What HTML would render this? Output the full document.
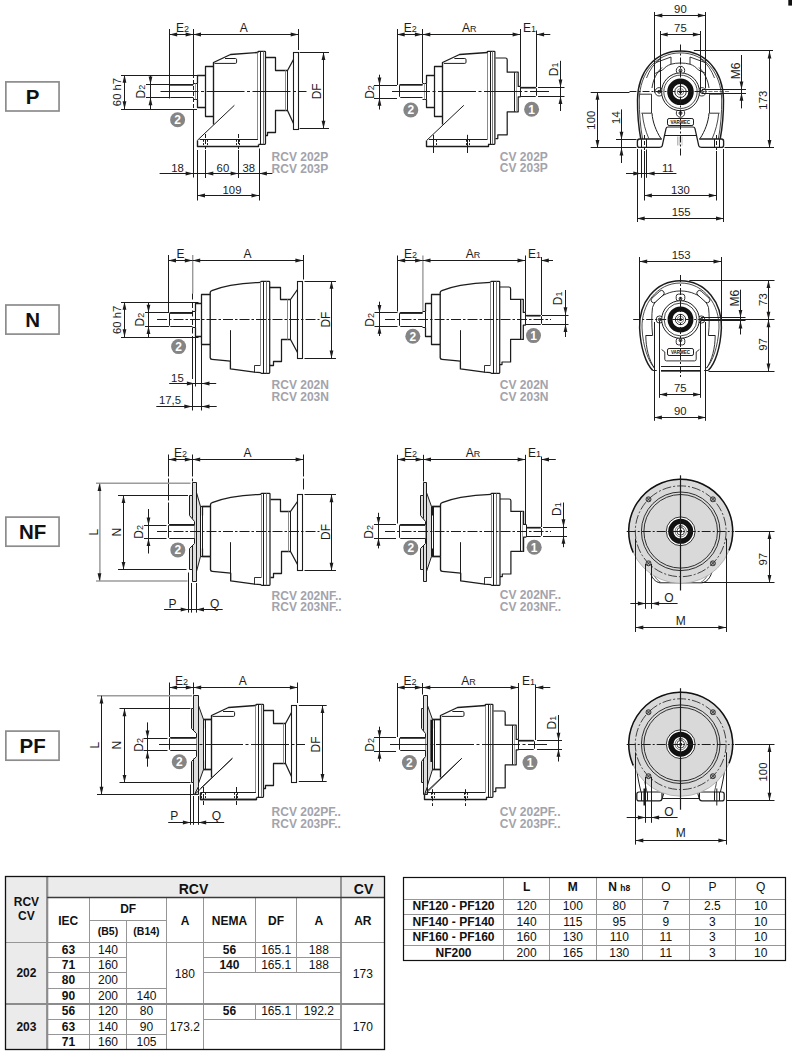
<!DOCTYPE html>
<html><head><meta charset="utf-8"><title>RCV / CV dimensions</title>
<style>
html,body{margin:0;padding:0;background:#fff;}
body{width:792px;height:1062px;overflow:hidden;}
svg{display:block;font-family:"Liberation Sans",sans-serif;}
</style></head><body>
<svg width="792" height="1062" viewBox="0 0 792 1062">
<rect x="0" y="0" width="792" height="1062" fill="#ffffff"/>
<rect x="788.3" y="0" width="3.7" height="5.6" fill="#111"/>
<rect x="5.85" y="81.9" width="53.2" height="29.1" fill="#fff" stroke="#8c8c8c" stroke-width="1.7" rx="0"/>
<text x="32.6" y="103.8" font-size="20.5" text-anchor="middle" fill="#111" font-weight="bold" >P</text>
<rect x="5.85" y="305" width="53.2" height="29.1" fill="#fff" stroke="#8c8c8c" stroke-width="1.7" rx="0"/>
<text x="32.6" y="326.9" font-size="20.5" text-anchor="middle" fill="#111" font-weight="bold" >N</text>
<rect x="5.85" y="517.1" width="53.2" height="29.1" fill="#fff" stroke="#8c8c8c" stroke-width="1.7" rx="0"/>
<text x="32.6" y="538.8" font-size="20.5" text-anchor="middle" fill="#111" font-weight="bold" >NF</text>
<rect x="5.85" y="731.1" width="53.2" height="29.1" fill="#fff" stroke="#8c8c8c" stroke-width="1.7" rx="0"/>
<text x="32.6" y="752.6" font-size="20.5" text-anchor="middle" fill="#111" font-weight="bold" >PF</text>
<path d="M193.5 84.5 L170.5 84.5 L169.5 85.5 L169.5 96.5 L170.5 97.5 L193.5 97.5" fill="none" stroke="#1c1c1c" stroke-width="1" stroke-linejoin="round"/>
<line x1="170" y1="84.9" x2="193.2" y2="84.9" stroke="#1c1c1c" stroke-width="1.6"/>
<path d="M193.5 83.5 L197.5 83.5 L197.5 99.5 L193.5 99.5" fill="none" stroke="#1c1c1c" stroke-width="1" stroke-linejoin="round"/>
<line x1="195.5" y1="83" x2="195.5" y2="99.8" stroke="#777" stroke-width="0.7"/>
<path d="M197.5 83.5 L197.5 75.5 L205.5 75.5 L205.5 107.5 L197.5 107.5 L197.5 99.5" fill="none" stroke="#1c1c1c" stroke-width="1.26" stroke-linejoin="round"/>
<path d="M205.5 75.5 L205.5 66.5 L213.5 66.5" fill="none" stroke="#1c1c1c" stroke-width="1.26" stroke-linejoin="round"/>
<path d="M205.5 107.5 L205.5 116.5 L213.5 116.5" fill="none" stroke="#1c1c1c" stroke-width="1.26" stroke-linejoin="round"/>
<path d="M213.5 124.5 L213.5 62.5 L230.5 54.5 L257.5 52.5" fill="none" stroke="#1c1c1c" stroke-width="1.38" stroke-linejoin="round"/>
<path d="M 214.5 63.4 L 235.4 63.4 Q 236.6 63.4 236.6 62.2 L 236.6 59.7 Q 236.6 58.5 235.4 58.5 L 225 58.5" fill="none" stroke="#1c1c1c" stroke-width="1" stroke-linejoin="round" />
<path d="M 257.9 52.9 L 257.9 51.9 Q 257.9 51.3 258.6 51.3 L 264.8 51.3 Q 265.5 51.3 265.5 51.9 L 265.5 143.6 Q 265.5 144.3 264.8 144.3 L 258.6 144.3" fill="none" stroke="#1c1c1c" stroke-width="1.23" stroke-linejoin="round" />
<line x1="257.5" y1="52.9" x2="257.5" y2="139.7" stroke="#8a8a8a" stroke-width="1"/>
<line x1="260.5" y1="51.5" x2="260.5" y2="144.2" stroke="#1c1c1c" stroke-width="1"/>
<line x1="263.5" y1="51.5" x2="263.5" y2="144.2" stroke="#777" stroke-width="1"/>
<line x1="234.4" y1="105.3" x2="197.3" y2="140.4" stroke="#1c1c1c" stroke-width="1"/>
<path d="M197.5 140.5 L197.5 146.5 L258.5 146.5 L258.5 144.5" fill="none" stroke="#1c1c1c" stroke-width="1.38" stroke-linejoin="round"/>
<line x1="199.5" y1="139.5" x2="257.9" y2="139.5" stroke="#1c1c1c" stroke-width="1"/>
<line x1="203.5" y1="139.8" x2="203.5" y2="146.2" stroke="#1c1c1c" stroke-width="1" stroke-dasharray="2 1.3"/>
<line x1="207.5" y1="139.8" x2="207.5" y2="146.2" stroke="#1c1c1c" stroke-width="1" stroke-dasharray="2 1.3"/>
<line x1="236.5" y1="139.8" x2="236.5" y2="146.2" stroke="#1c1c1c" stroke-width="1" stroke-dasharray="2 1.3"/>
<line x1="239.5" y1="139.8" x2="239.5" y2="146.2" stroke="#1c1c1c" stroke-width="1" stroke-dasharray="2 1.3"/>
<path d="M265.5 57.5 L275.5 57.5 L275.5 70.5 L287.5 70.5 L293.5 59.5" fill="none" stroke="#1c1c1c" stroke-width="1.26" stroke-linejoin="round"/>
<path d="M265.5 135.5 L267.5 135.5 L267.5 132.5 L275.5 132.5 L275.5 110.5 L287.5 110.5 L293.5 123.5" fill="none" stroke="#1c1c1c" stroke-width="1.26" stroke-linejoin="round"/>
<line x1="287.5" y1="70.3" x2="287.5" y2="110.5" stroke="#1c1c1c" stroke-width="1"/>
<line x1="285.5" y1="70.3" x2="285.5" y2="110.5" stroke="#8a8a8a" stroke-width="1"/>
<rect x="293.5" y="52.5" width="5" height="77" fill="none" stroke="#1c1c1c" stroke-width="1.1" rx="0"/>
<line x1="160.5" y1="91.5" x2="306.5" y2="91.5" stroke="#1c1c1c" stroke-width="1" stroke-dasharray="38 2.5 3 2.5"/>
<line x1="169.5" y1="29" x2="169.5" y2="98.5" stroke="#1c1c1c" stroke-width="1"/>
<line x1="193.5" y1="29" x2="193.5" y2="74" stroke="#1c1c1c" stroke-width="1"/>
<line x1="193.5" y1="74" x2="193.5" y2="111" stroke="#1c1c1c" stroke-width="1" stroke-dasharray="4 2"/>
<line x1="193.5" y1="111" x2="193.5" y2="177.5" stroke="#1c1c1c" stroke-width="1"/>
<line x1="298.5" y1="29" x2="298.5" y2="50" stroke="#1c1c1c" stroke-width="1"/>
<line x1="169.5" y1="34.5" x2="193.3" y2="34.5" stroke="#1c1c1c" stroke-width="1"/>
<polygon points="169.5,34.5 177.2,32.6 177.2,36.4" fill="#1c1c1c"/>
<polygon points="193.3,34.5 185.6,32.6 185.6,36.4" fill="#1c1c1c"/>
<line x1="193.3" y1="34.5" x2="298.4" y2="34.5" stroke="#1c1c1c" stroke-width="1"/>
<polygon points="193.3,34.5 201,32.6 201,36.4" fill="#1c1c1c"/>
<polygon points="298.4,34.5 290.7,32.6 290.7,36.4" fill="#1c1c1c"/>
<text x="182.4" y="31.7" font-size="12" text-anchor="middle" fill="#1c1c1c" >E<tspan font-size="9">2</tspan></text>
<text x="243.8" y="32.1" font-size="12" text-anchor="middle" fill="#1c1c1c" >A</text>
<line x1="121" y1="75.5" x2="197" y2="75.5" stroke="#1c1c1c" stroke-width="1"/>
<line x1="121" y1="109.5" x2="197" y2="109.5" stroke="#1c1c1c" stroke-width="1"/>
<line x1="124.5" y1="75" x2="124.5" y2="109" stroke="#1c1c1c" stroke-width="1"/>
<polygon points="124.5,75 122.6,82.7 126.4,82.7" fill="#1c1c1c"/>
<polygon points="124.5,109 122.6,101.3 126.4,101.3" fill="#1c1c1c"/>
<text x="121" y="92" font-size="11.3" text-anchor="middle" fill="#1c1c1c" transform="rotate(-90 121 92)" >60 h7</text>
<line x1="146" y1="84.5" x2="169.5" y2="84.5" stroke="#1c1c1c" stroke-width="1"/>
<line x1="146" y1="97.5" x2="169.5" y2="97.5" stroke="#1c1c1c" stroke-width="1"/>
<line x1="150.5" y1="75" x2="150.5" y2="109" stroke="#1c1c1c" stroke-width="1"/>
<polygon points="150.5,84.3 148.6,76.6 152.4,76.6" fill="#1c1c1c"/>
<polygon points="150.5,97.6 148.6,105.3 152.4,105.3" fill="#1c1c1c"/>
<text x="145.5" y="91.6" font-size="12" text-anchor="middle" fill="#1c1c1c" transform="rotate(-90 145.5 91.6)" >D<tspan font-size="9">2</tspan></text>
<line x1="299.6" y1="52.5" x2="329" y2="52.5" stroke="#1c1c1c" stroke-width="1"/>
<line x1="299.6" y1="128.5" x2="329" y2="128.5" stroke="#1c1c1c" stroke-width="1"/>
<line x1="323.5" y1="52.2" x2="323.5" y2="128.4" stroke="#1c1c1c" stroke-width="1"/>
<polygon points="323.5,52.2 321.6,59.9 325.4,59.9" fill="#1c1c1c"/>
<polygon points="323.5,128.4 321.6,120.7 325.4,120.7" fill="#1c1c1c"/>
<text x="321" y="91.3" font-size="12" text-anchor="middle" fill="#1c1c1c" transform="rotate(-90 321 91.3)" >DF</text>
<circle cx="177.6" cy="119.7" r="7.5" fill="#858585" stroke="none" stroke-width="0"/>
<text x="177.6" y="124" font-size="12" text-anchor="middle" fill="#ffffff" font-weight="bold" >2</text>
<line x1="197.5" y1="150" x2="197.5" y2="200.5" stroke="#1c1c1c" stroke-width="1"/>
<line x1="259.5" y1="148.5" x2="259.5" y2="200.5" stroke="#1c1c1c" stroke-width="1"/>
<line x1="205.5" y1="134" x2="205.5" y2="149" stroke="#1c1c1c" stroke-width="1" stroke-dasharray="4 2"/>
<line x1="238.5" y1="134" x2="238.5" y2="149" stroke="#1c1c1c" stroke-width="1" stroke-dasharray="4 2"/>
<line x1="205.5" y1="150" x2="205.5" y2="178" stroke="#1c1c1c" stroke-width="1"/>
<line x1="238.5" y1="150" x2="238.5" y2="178" stroke="#1c1c1c" stroke-width="1"/>
<line x1="159.6" y1="173.5" x2="272.4" y2="173.5" stroke="#1c1c1c" stroke-width="1"/>
<polygon points="193.3,173.5 185.6,171.6 185.6,175.4" fill="#1c1c1c"/>
<polygon points="205.6,173.5 213.3,171.6 213.3,175.4" fill="#1c1c1c"/>
<polygon points="238.3,173.5 230.6,171.6 230.6,175.4" fill="#1c1c1c"/>
<polygon points="259.2,173.5 266.9,171.6 266.9,175.4" fill="#1c1c1c"/>
<text x="177.6" y="171.6" font-size="11.3" text-anchor="middle" fill="#1c1c1c" >18</text>
<text x="222.9" y="171.6" font-size="11.3" text-anchor="middle" fill="#1c1c1c" >60</text>
<text x="248.7" y="171.6" font-size="11.3" text-anchor="middle" fill="#1c1c1c" >38</text>
<line x1="197.3" y1="195.5" x2="259.2" y2="195.5" stroke="#1c1c1c" stroke-width="1"/>
<polygon points="197.3,195.5 205,193.6 205,197.4" fill="#1c1c1c"/>
<polygon points="259.2,195.5 251.5,193.6 251.5,197.4" fill="#1c1c1c"/>
<text x="232" y="194" font-size="11.3" text-anchor="middle" fill="#1c1c1c" >109</text>
<text x="271.6" y="160.9" font-size="12" text-anchor="start" fill="#a3a3ab" font-weight="bold" >RCV 202P</text>
<text x="271.6" y="172.5" font-size="12" text-anchor="start" fill="#a3a3ab" font-weight="bold" >RCV 203P</text>
<path d="M422.5 84.5 L400.5 84.5 L399.5 85.5 L399.5 96.5 L400.5 97.5 L422.5 97.5" fill="none" stroke="#1c1c1c" stroke-width="1" stroke-linejoin="round"/>
<line x1="399.4" y1="84.9" x2="422.6" y2="84.9" stroke="#1c1c1c" stroke-width="1.6"/>
<path d="M422.5 83.5 L426.5 83.5 L426.5 99.5 L422.5 99.5" fill="none" stroke="#1c1c1c" stroke-width="1" stroke-linejoin="round"/>
<line x1="424.5" y1="83" x2="424.5" y2="99.8" stroke="#777" stroke-width="0.7"/>
<path d="M426.5 83.5 L426.5 75.5 L434.5 75.5 L434.5 107.5 L426.5 107.5 L426.5 99.5" fill="none" stroke="#1c1c1c" stroke-width="1.26" stroke-linejoin="round"/>
<path d="M434.5 75.5 L434.5 66.5 L442.5 66.5" fill="none" stroke="#1c1c1c" stroke-width="1.26" stroke-linejoin="round"/>
<path d="M434.5 107.5 L434.5 116.5 L442.5 116.5" fill="none" stroke="#1c1c1c" stroke-width="1.26" stroke-linejoin="round"/>
<path d="M442.5 124.5 L442.5 62.5 L459.5 54.5 L487.5 52.5" fill="none" stroke="#1c1c1c" stroke-width="1.38" stroke-linejoin="round"/>
<path d="M 443.9 63.4 L 464.8 63.4 Q 466 63.4 466 62.2 L 466 59.7 Q 466 58.5 464.8 58.5 L 454.4 58.5" fill="none" stroke="#1c1c1c" stroke-width="1" stroke-linejoin="round" />
<path d="M 487.3 52.9 L 487.3 51.9 Q 487.3 51.3 488 51.3 L 494.2 51.3 Q 494.9 51.3 494.9 51.9 L 494.9 143.6 Q 494.9 144.3 494.2 144.3 L 488 144.3" fill="none" stroke="#1c1c1c" stroke-width="1.23" stroke-linejoin="round" />
<line x1="487.5" y1="52.9" x2="487.5" y2="139.7" stroke="#8a8a8a" stroke-width="1"/>
<line x1="490.5" y1="51.5" x2="490.5" y2="144.2" stroke="#1c1c1c" stroke-width="1"/>
<line x1="492.5" y1="51.5" x2="492.5" y2="144.2" stroke="#777" stroke-width="1"/>
<line x1="463.8" y1="105.3" x2="426.7" y2="140.4" stroke="#1c1c1c" stroke-width="1"/>
<path d="M426.5 140.5 L426.5 146.5 L488.5 146.5 L488.5 144.5" fill="none" stroke="#1c1c1c" stroke-width="1.38" stroke-linejoin="round"/>
<line x1="428.9" y1="139.5" x2="487.3" y2="139.5" stroke="#1c1c1c" stroke-width="1"/>
<line x1="433.5" y1="139.8" x2="433.5" y2="146.2" stroke="#1c1c1c" stroke-width="1" stroke-dasharray="2 1.3"/>
<line x1="436.5" y1="139.8" x2="436.5" y2="146.2" stroke="#1c1c1c" stroke-width="1" stroke-dasharray="2 1.3"/>
<line x1="466.5" y1="139.8" x2="466.5" y2="146.2" stroke="#1c1c1c" stroke-width="1" stroke-dasharray="2 1.3"/>
<line x1="469.5" y1="139.8" x2="469.5" y2="146.2" stroke="#1c1c1c" stroke-width="1" stroke-dasharray="2 1.3"/>
<path d="M 495.5 58 L 505.4 58 Q 507.2 58 507.2 59.8 L 507.2 72.2 L 518.2 72.2 L 518.2 86.4 L 520.5 86.4" fill="none" stroke="#1c1c1c" stroke-width="1.23" stroke-linejoin="round" />
<path d="M 495.5 138.6 L 497.8 138.6 L 497.8 134.8 L 507.2 134.8 L 507.2 111.8 L 518.2 111.8 L 518.2 96.9 L 520.5 96.9" fill="none" stroke="#1c1c1c" stroke-width="1.23" stroke-linejoin="round" />
<line x1="514.5" y1="72.2" x2="514.5" y2="111.8" stroke="#1c1c1c" stroke-width="1"/>
<line x1="516.5" y1="72.2" x2="516.5" y2="111.8" stroke="#8a8a8a" stroke-width="0.7"/>
<path d="M520.5 87.5 L535.5 87.5 L536.5 88.5 L536.5 95.5 L535.5 96.5 L520.5 96.5" fill="none" stroke="#1c1c1c" stroke-width="1" stroke-linejoin="round"/>
<line x1="520.5" y1="86.4" x2="520.5" y2="96.9" stroke="#1c1c1c" stroke-width="1"/>
<line x1="521" y1="87.7" x2="535.8" y2="87.7" stroke="#1c1c1c" stroke-width="1.7"/>
<line x1="392" y1="91.5" x2="549" y2="91.5" stroke="#1c1c1c" stroke-width="1" stroke-dasharray="38 2.5 3 2.5"/>
<line x1="397.5" y1="29" x2="397.5" y2="85" stroke="#1c1c1c" stroke-width="1"/>
<line x1="422.5" y1="29" x2="422.5" y2="83" stroke="#1c1c1c" stroke-width="1"/>
<line x1="520.5" y1="29" x2="520.5" y2="86" stroke="#1c1c1c" stroke-width="1"/>
<line x1="536.5" y1="30.5" x2="536.5" y2="87" stroke="#1c1c1c" stroke-width="1"/>
<line x1="397" y1="34.5" x2="422.6" y2="34.5" stroke="#1c1c1c" stroke-width="1"/>
<polygon points="397,34.5 404.7,32.6 404.7,36.4" fill="#1c1c1c"/>
<polygon points="422.6,34.5 414.9,32.6 414.9,36.4" fill="#1c1c1c"/>
<line x1="422.6" y1="34.5" x2="520.3" y2="34.5" stroke="#1c1c1c" stroke-width="1"/>
<polygon points="422.6,34.5 430.3,32.6 430.3,36.4" fill="#1c1c1c"/>
<polygon points="520.3,34.5 512.6,32.6 512.6,36.4" fill="#1c1c1c"/>
<line x1="536.4" y1="34.5" x2="550.3" y2="34.5" stroke="#1c1c1c" stroke-width="1"/>
<polygon points="536.4,34.5 544.1,32.6 544.1,36.4" fill="#1c1c1c"/>
<text x="410.3" y="32.1" font-size="12" text-anchor="middle" fill="#1c1c1c" >E<tspan font-size="9">2</tspan></text>
<text x="469.2" y="32.1" font-size="12" text-anchor="middle" fill="#1c1c1c" >A<tspan font-size="9">R</tspan></text>
<text x="529.6" y="32.1" font-size="12" text-anchor="middle" fill="#1c1c1c" >E<tspan font-size="9">1</tspan></text>
<line x1="374" y1="85.5" x2="397" y2="85.5" stroke="#1c1c1c" stroke-width="1"/>
<line x1="374" y1="98.5" x2="397" y2="98.5" stroke="#1c1c1c" stroke-width="1"/>
<line x1="379.5" y1="74.7" x2="379.5" y2="109.5" stroke="#1c1c1c" stroke-width="1"/>
<polygon points="379.5,85.3 377.6,77.6 381.4,77.6" fill="#1c1c1c"/>
<polygon points="379.5,98.1 377.6,105.8 381.4,105.8" fill="#1c1c1c"/>
<text x="374" y="92" font-size="12" text-anchor="middle" fill="#1c1c1c" transform="rotate(-90 374 92)" >D<tspan font-size="9">2</tspan></text>
<line x1="538" y1="87.5" x2="564.5" y2="87.5" stroke="#1c1c1c" stroke-width="1"/>
<line x1="538" y1="96.5" x2="564.5" y2="96.5" stroke="#1c1c1c" stroke-width="1"/>
<line x1="560.5" y1="60.8" x2="560.5" y2="111" stroke="#1c1c1c" stroke-width="1"/>
<polygon points="560.5,87.2 558.6,79.5 562.4,79.5" fill="#1c1c1c"/>
<polygon points="560.5,96.3 558.6,104 562.4,104" fill="#1c1c1c"/>
<text x="557.8" y="69.4" font-size="12" text-anchor="middle" fill="#1c1c1c" transform="rotate(-90 557.8 69.4)" >D<tspan font-size="9">1</tspan></text>
<circle cx="410.8" cy="110" r="7.5" fill="#858585" stroke="none" stroke-width="0"/>
<text x="410.8" y="114.3" font-size="12" text-anchor="middle" fill="#ffffff" font-weight="bold" >2</text>
<circle cx="531.6" cy="109.2" r="7.5" fill="#858585" stroke="none" stroke-width="0"/>
<text x="531.6" y="113.5" font-size="12" text-anchor="middle" fill="#ffffff" font-weight="bold" >1</text>
<line x1="433.5" y1="134.8" x2="433.5" y2="153" stroke="#1c1c1c" stroke-width="1"/>
<line x1="467.5" y1="134.8" x2="467.5" y2="153" stroke="#1c1c1c" stroke-width="1"/>
<text x="499.8" y="160.5" font-size="12" text-anchor="start" fill="#a3a3ab" font-weight="bold" >CV 202P</text>
<text x="499.8" y="172.1" font-size="12" text-anchor="start" fill="#a3a3ab" font-weight="bold" >CV 203P</text>
<path d="M192.5 312.5 L170.5 312.5 L169.5 313.5 L169.5 325.5 L170.5 326.5 L192.5 326.5" fill="none" stroke="#1c1c1c" stroke-width="1" stroke-linejoin="round"/>
<line x1="169.7" y1="313.1" x2="192.6" y2="313.1" stroke="#1c1c1c" stroke-width="1.6"/>
<path d="M192.5 311.5 L195.5 311.5 L195.5 327.5 L192.5 327.5" fill="none" stroke="#1c1c1c" stroke-width="1" stroke-linejoin="round"/>
<path d="M195.5 311.5 L195.5 303.5 L201.5 303.5 L201.5 336.5 L195.5 336.5 L195.5 327.5" fill="none" stroke="#1c1c1c" stroke-width="1.26" stroke-linejoin="round"/>
<path d="M201.5 303.5 L201.5 294.5 L210.5 294.5" fill="none" stroke="#1c1c1c" stroke-width="1.26" stroke-linejoin="round"/>
<path d="M201.5 336.5 L201.5 344.5 L210.5 344.5" fill="none" stroke="#1c1c1c" stroke-width="1.26" stroke-linejoin="round"/>
<path d="M 210.2 344.4 L 210.2 292.6 Q 210.3 291.1 211.8 290.6 Q 221 287 230.5 285.3 Q 245 283 260.8 282.3" fill="none" stroke="#1c1c1c" stroke-width="1.34" stroke-linejoin="round" />
<path d="M 210.2 344.4 L 210.2 357.6 Q 210.3 359.2 212 359.4 L 230.4 361.2 L 230.4 368.9 L 254.4 372.1 L 260.8 372.6" fill="none" stroke="#1c1c1c" stroke-width="1.34" stroke-linejoin="round" />
<path d="M254.5 372.5 L254.5 365.5 L260.5 365.5" fill="none" stroke="#1c1c1c" stroke-width="0.9" stroke-linejoin="round"/>
<line x1="230.5" y1="330.2" x2="230.5" y2="361.2" stroke="#1c1c1c" stroke-width="1"/>
<path d="M 260.8 282.3 L 260.8 281.9 Q 260.8 281.3 261.5 281.3 L 269 281.3 Q 269.7 281.3 269.7 281.9 L 269.7 372.6 Q 269.7 373.3 269 373.3 L 261.5 373.3 Q 260.8 373.3 260.8 372.6" fill="none" stroke="#1c1c1c" stroke-width="1.23" stroke-linejoin="round" />
<line x1="260.5" y1="282.3" x2="260.5" y2="365.4" stroke="#8a8a8a" stroke-width="1"/>
<line x1="263.5" y1="281.4" x2="263.5" y2="373.2" stroke="#1c1c1c" stroke-width="1"/>
<line x1="266.5" y1="281.4" x2="266.5" y2="373.2" stroke="#777" stroke-width="1"/>
<path d="M269.5 287.5 L280.5 287.5 L280.5 299.5 L290.5 299.5 L297.5 289.5" fill="none" stroke="#1c1c1c" stroke-width="1.26" stroke-linejoin="round"/>
<path d="M269.5 365.5 L273.5 365.5 L273.5 361.5 L281.5 361.5 L281.5 339.5 L290.5 339.5 L297.5 352.5" fill="none" stroke="#1c1c1c" stroke-width="1.26" stroke-linejoin="round"/>
<line x1="290.5" y1="299.4" x2="290.5" y2="339.6" stroke="#1c1c1c" stroke-width="1"/>
<line x1="287.5" y1="299.4" x2="287.5" y2="339.6" stroke="#8a8a8a" stroke-width="1"/>
<rect x="297.5" y="281.5" width="5" height="77" fill="none" stroke="#1c1c1c" stroke-width="1.1" rx="0"/>
<line x1="157" y1="319.5" x2="319.5" y2="319.5" stroke="#1c1c1c" stroke-width="1" stroke-dasharray="10 2 2.5 2"/>
<line x1="168.5" y1="255" x2="168.5" y2="312" stroke="#1c1c1c" stroke-width="1"/>
<line x1="192.7" y1="255" x2="192.7" y2="293.5" stroke="#9a9a9a" stroke-width="1.4"/>
<line x1="192.5" y1="293.5" x2="192.5" y2="337" stroke="#1c1c1c" stroke-width="1" stroke-dasharray="6 2.5"/>
<line x1="192.5" y1="337" x2="192.5" y2="410.5" stroke="#1c1c1c" stroke-width="1" stroke-dasharray="42 4"/>
<line x1="195.5" y1="337" x2="195.5" y2="386.5" stroke="#1c1c1c" stroke-width="1"/>
<line x1="303.5" y1="255" x2="303.5" y2="279.5" stroke="#1c1c1c" stroke-width="1"/>
<line x1="168.3" y1="260.5" x2="192.5" y2="260.5" stroke="#1c1c1c" stroke-width="1"/>
<polygon points="168.3,260.5 176,258.6 176,262.4" fill="#1c1c1c"/>
<polygon points="192.5,260.5 184.8,258.6 184.8,262.4" fill="#1c1c1c"/>
<line x1="192.5" y1="260.5" x2="303.1" y2="260.5" stroke="#1c1c1c" stroke-width="1"/>
<polygon points="192.5,260.5 200.2,258.6 200.2,262.4" fill="#1c1c1c"/>
<polygon points="303.1,260.5 295.4,258.6 295.4,262.4" fill="#1c1c1c"/>
<text x="180.4" y="257.9" font-size="12" text-anchor="middle" fill="#1c1c1c" >E</text>
<text x="247.5" y="258.1" font-size="12" text-anchor="middle" fill="#1c1c1c" >A</text>
<line x1="121" y1="302.5" x2="198.5" y2="302.5" stroke="#1c1c1c" stroke-width="1"/>
<line x1="121" y1="337.5" x2="198.5" y2="337.5" stroke="#1c1c1c" stroke-width="1"/>
<line x1="124.5" y1="302.1" x2="124.5" y2="337" stroke="#1c1c1c" stroke-width="1"/>
<polygon points="124.5,302.1 122.6,309.8 126.4,309.8" fill="#1c1c1c"/>
<polygon points="124.5,337 122.6,329.3 126.4,329.3" fill="#1c1c1c"/>
<text x="121" y="319.8" font-size="11.3" text-anchor="middle" fill="#1c1c1c" transform="rotate(-90 121 319.8)" >60 h7</text>
<line x1="145" y1="312.5" x2="169.2" y2="312.5" stroke="#1c1c1c" stroke-width="1"/>
<line x1="145" y1="326.5" x2="169.2" y2="326.5" stroke="#1c1c1c" stroke-width="1"/>
<line x1="148.5" y1="302.1" x2="148.5" y2="337" stroke="#1c1c1c" stroke-width="1"/>
<polygon points="148.5,312.5 146.6,304.8 150.4,304.8" fill="#1c1c1c"/>
<polygon points="148.5,326.2 146.6,333.9 150.4,333.9" fill="#1c1c1c"/>
<text x="144.5" y="319.6" font-size="12" text-anchor="middle" fill="#1c1c1c" transform="rotate(-90 144.5 319.6)" >D<tspan font-size="9">2</tspan></text>
<line x1="304.5" y1="281.5" x2="336" y2="281.5" stroke="#1c1c1c" stroke-width="1"/>
<line x1="304.5" y1="358.5" x2="336" y2="358.5" stroke="#1c1c1c" stroke-width="1"/>
<line x1="331.5" y1="281" x2="331.5" y2="358.3" stroke="#1c1c1c" stroke-width="1"/>
<polygon points="331.5,281 329.6,288.7 333.4,288.7" fill="#1c1c1c"/>
<polygon points="331.5,358.3 329.6,350.6 333.4,350.6" fill="#1c1c1c"/>
<text x="330.2" y="319.6" font-size="12" text-anchor="middle" fill="#1c1c1c" transform="rotate(-90 330.2 319.6)" >DF</text>
<circle cx="178.6" cy="346.6" r="7.5" fill="#858585" stroke="none" stroke-width="0"/>
<text x="178.6" y="350.9" font-size="12" text-anchor="middle" fill="#ffffff" font-weight="bold" >2</text>
<line x1="201.5" y1="338" x2="201.5" y2="410.5" stroke="#1c1c1c" stroke-width="1"/>
<line x1="169.2" y1="383.5" x2="216.2" y2="383.5" stroke="#1c1c1c" stroke-width="1"/>
<polygon points="194.6,383.5 186.9,381.6 186.9,385.4" fill="#1c1c1c"/>
<polygon points="201.8,383.5 209.5,381.6 209.5,385.4" fill="#1c1c1c"/>
<text x="177.4" y="382" font-size="11.3" text-anchor="middle" fill="#1c1c1c" >15</text>
<line x1="156.3" y1="406.5" x2="216.7" y2="406.5" stroke="#1c1c1c" stroke-width="1"/>
<polygon points="192,406.5 184.3,404.6 184.3,408.4" fill="#1c1c1c"/>
<polygon points="201.8,406.5 209.5,404.6 209.5,408.4" fill="#1c1c1c"/>
<text x="170" y="404.4" font-size="11.3" text-anchor="middle" fill="#1c1c1c" >17,5</text>
<text x="271.6" y="389.3" font-size="12" text-anchor="start" fill="#a3a3ab" font-weight="bold" >RCV 202N</text>
<text x="271.6" y="400.9" font-size="12" text-anchor="start" fill="#a3a3ab" font-weight="bold" >RCV 203N</text>
<path d="M422.5 312.5 L400.5 312.5 L399.5 313.5 L399.5 325.5 L400.5 326.5 L422.5 326.5" fill="none" stroke="#1c1c1c" stroke-width="1" stroke-linejoin="round"/>
<line x1="399.7" y1="313.1" x2="422.6" y2="313.1" stroke="#1c1c1c" stroke-width="1.6"/>
<path d="M422.5 311.5 L425.5 311.5 L425.5 327.5 L422.5 327.5" fill="none" stroke="#1c1c1c" stroke-width="1" stroke-linejoin="round"/>
<path d="M425.5 311.5 L425.5 303.5 L431.5 303.5 L431.5 336.5 L425.5 336.5 L425.5 327.5" fill="none" stroke="#1c1c1c" stroke-width="1.26" stroke-linejoin="round"/>
<path d="M431.5 303.5 L431.5 294.5 L440.5 294.5" fill="none" stroke="#1c1c1c" stroke-width="1.26" stroke-linejoin="round"/>
<path d="M431.5 336.5 L431.5 344.5 L440.5 344.5" fill="none" stroke="#1c1c1c" stroke-width="1.26" stroke-linejoin="round"/>
<path d="M 440.2 344.4 L 440.2 292.6 Q 440.3 291.1 441.8 290.6 Q 451 287 460.5 285.3 Q 475 283 490.8 282.3" fill="none" stroke="#1c1c1c" stroke-width="1.34" stroke-linejoin="round" />
<path d="M 440.2 344.4 L 440.2 357.6 Q 440.3 359.2 442 359.4 L 460.4 361.2 L 460.4 368.9 L 484.4 372.1 L 490.8 372.6" fill="none" stroke="#1c1c1c" stroke-width="1.34" stroke-linejoin="round" />
<path d="M484.5 372.5 L484.5 365.5 L490.5 365.5" fill="none" stroke="#1c1c1c" stroke-width="0.9" stroke-linejoin="round"/>
<line x1="460.5" y1="330.2" x2="460.5" y2="361.2" stroke="#1c1c1c" stroke-width="1"/>
<path d="M 490.8 282.3 L 490.8 281.9 Q 490.8 281.3 491.5 281.3 L 499 281.3 Q 499.7 281.3 499.7 281.9 L 499.7 372.6 Q 499.7 373.3 499 373.3 L 491.5 373.3 Q 490.8 373.3 490.8 372.6" fill="none" stroke="#1c1c1c" stroke-width="1.23" stroke-linejoin="round" />
<line x1="490.5" y1="282.3" x2="490.5" y2="365.4" stroke="#8a8a8a" stroke-width="1"/>
<line x1="493.5" y1="281.4" x2="493.5" y2="373.2" stroke="#1c1c1c" stroke-width="1"/>
<line x1="496.5" y1="281.4" x2="496.5" y2="373.2" stroke="#777" stroke-width="1"/>
<path d="M 499.7 287 L 508.8 287 Q 510.6 287 510.6 288.8 L 510.6 299.4 L 523.3 299.4 L 523.3 312.4 L 525.7 312.4" fill="none" stroke="#1c1c1c" stroke-width="1.23" stroke-linejoin="round" />
<path d="M 499.7 364.6 L 502 364.6 L 502 362 L 510.6 362 L 510.6 339.4 L 523.3 339.4 L 523.3 325.2 L 525.7 325.2" fill="none" stroke="#1c1c1c" stroke-width="1.23" stroke-linejoin="round" />
<line x1="520.5" y1="299.4" x2="520.5" y2="339.4" stroke="#1c1c1c" stroke-width="1"/>
<line x1="521.5" y1="299.4" x2="521.5" y2="339.4" stroke="#8a8a8a" stroke-width="0.7"/>
<path d="M525.5 315.5 L540.5 315.5 L541.5 316.5 L541.5 323.5 L540.5 324.5 L525.5 324.5" fill="none" stroke="#1c1c1c" stroke-width="1" stroke-linejoin="round"/>
<line x1="525.5" y1="312.4" x2="525.5" y2="325.2" stroke="#1c1c1c" stroke-width="1"/>
<line x1="526.2" y1="315.7" x2="540.5" y2="315.7" stroke="#1c1c1c" stroke-width="1.7"/>
<line x1="385" y1="319.5" x2="551" y2="319.5" stroke="#1c1c1c" stroke-width="1" stroke-dasharray="10 2 2.5 2"/>
<line x1="397.5" y1="255.5" x2="397.5" y2="311.5" stroke="#1c1c1c" stroke-width="1"/>
<line x1="422.9" y1="255.5" x2="422.9" y2="311" stroke="#9a9a9a" stroke-width="1.4"/>
<line x1="525.5" y1="255.5" x2="525.5" y2="312" stroke="#1c1c1c" stroke-width="1"/>
<line x1="541.5" y1="257" x2="541.5" y2="315" stroke="#1c1c1c" stroke-width="1"/>
<line x1="397.5" y1="260.5" x2="422.8" y2="260.5" stroke="#1c1c1c" stroke-width="1"/>
<polygon points="397.5,260.5 405.2,258.6 405.2,262.4" fill="#1c1c1c"/>
<polygon points="422.8,260.5 415.1,258.6 415.1,262.4" fill="#1c1c1c"/>
<line x1="422.8" y1="260.5" x2="525.2" y2="260.5" stroke="#1c1c1c" stroke-width="1"/>
<polygon points="422.8,260.5 430.5,258.6 430.5,262.4" fill="#1c1c1c"/>
<polygon points="525.2,260.5 517.5,258.6 517.5,262.4" fill="#1c1c1c"/>
<line x1="541.1" y1="260.5" x2="553" y2="260.5" stroke="#1c1c1c" stroke-width="1"/>
<polygon points="541.1,260.5 548.8,258.6 548.8,262.4" fill="#1c1c1c"/>
<text x="410.6" y="258.1" font-size="12" text-anchor="middle" fill="#1c1c1c" >E<tspan font-size="9">2</tspan></text>
<text x="473" y="258.3" font-size="12" text-anchor="middle" fill="#1c1c1c" >A<tspan font-size="9">R</tspan></text>
<text x="534.4" y="258.1" font-size="12" text-anchor="middle" fill="#1c1c1c" >E<tspan font-size="9">1</tspan></text>
<line x1="374.5" y1="312.5" x2="397.5" y2="312.5" stroke="#1c1c1c" stroke-width="1"/>
<line x1="374.5" y1="326.5" x2="397.5" y2="326.5" stroke="#1c1c1c" stroke-width="1"/>
<line x1="379.5" y1="301.7" x2="379.5" y2="336" stroke="#1c1c1c" stroke-width="1"/>
<polygon points="379.5,312.8 377.6,305.1 381.4,305.1" fill="#1c1c1c"/>
<polygon points="379.5,326.1 377.6,333.8 381.4,333.8" fill="#1c1c1c"/>
<text x="374" y="319.8" font-size="12" text-anchor="middle" fill="#1c1c1c" transform="rotate(-90 374 319.8)" >D<tspan font-size="9">2</tspan></text>
<line x1="542" y1="315.5" x2="568.5" y2="315.5" stroke="#1c1c1c" stroke-width="1"/>
<line x1="542" y1="324.5" x2="568.5" y2="324.5" stroke="#1c1c1c" stroke-width="1"/>
<line x1="565.5" y1="290" x2="565.5" y2="337" stroke="#1c1c1c" stroke-width="1"/>
<polygon points="565.5,315 563.6,307.3 567.4,307.3" fill="#1c1c1c"/>
<polygon points="565.5,324.2 563.6,331.9 567.4,331.9" fill="#1c1c1c"/>
<text x="562.2" y="298.4" font-size="12" text-anchor="middle" fill="#1c1c1c" transform="rotate(-90 562.2 298.4)" >D<tspan font-size="9">1</tspan></text>
<circle cx="412.8" cy="336.2" r="7.5" fill="#858585" stroke="none" stroke-width="0"/>
<text x="412.8" y="340.5" font-size="12" text-anchor="middle" fill="#ffffff" font-weight="bold" >2</text>
<circle cx="533.5" cy="335.6" r="7.5" fill="#858585" stroke="none" stroke-width="0"/>
<text x="533.5" y="339.9" font-size="12" text-anchor="middle" fill="#ffffff" font-weight="bold" >1</text>
<text x="499.8" y="389.4" font-size="12" text-anchor="start" fill="#a3a3ab" font-weight="bold" >CV 202N</text>
<text x="499.8" y="401" font-size="12" text-anchor="start" fill="#a3a3ab" font-weight="bold" >CV 203N</text>
<path d="M202.5 515.5 L202.5 506.5 L210.5 506.5" fill="none" stroke="#1c1c1c" stroke-width="1.26" stroke-linejoin="round"/>
<path d="M202.5 548.5 L202.5 556.5 L210.5 556.5" fill="none" stroke="#1c1c1c" stroke-width="1.26" stroke-linejoin="round"/>
<path d="M 210.5 556.4 L 210.5 504.6 Q 210.6 503.1 212.1 502.6 Q 221.3 499 230.8 497.3 Q 245.3 495 261.1 494.3" fill="none" stroke="#1c1c1c" stroke-width="1.34" stroke-linejoin="round" />
<path d="M 210.5 556.4 L 210.5 569.6 Q 210.6 571.2 212.3 571.4 L 230.7 573.2 L 230.7 580.9 L 254.7 584.1 L 261.1 584.6" fill="none" stroke="#1c1c1c" stroke-width="1.34" stroke-linejoin="round" />
<path d="M254.5 584.5 L254.5 577.5 L261.5 577.5" fill="none" stroke="#1c1c1c" stroke-width="0.9" stroke-linejoin="round"/>
<line x1="230.5" y1="542.2" x2="230.5" y2="573.2" stroke="#1c1c1c" stroke-width="1"/>
<path d="M 261.1 494.3 L 261.1 493.9 Q 261.1 493.3 261.8 493.3 L 269.3 493.3 Q 270 493.3 270 493.9 L 270 584.6 Q 270 585.3 269.3 585.3 L 261.8 585.3 Q 261.1 585.3 261.1 584.6" fill="none" stroke="#1c1c1c" stroke-width="1.23" stroke-linejoin="round" />
<line x1="261.5" y1="494.3" x2="261.5" y2="577.4" stroke="#8a8a8a" stroke-width="1"/>
<line x1="263.5" y1="493.4" x2="263.5" y2="585.2" stroke="#1c1c1c" stroke-width="1"/>
<line x1="266.5" y1="493.4" x2="266.5" y2="585.2" stroke="#777" stroke-width="1"/>
<path d="M270.5 499.5 L280.5 499.5 L280.5 511.5 L290.5 511.5 L297.5 501.5" fill="none" stroke="#1c1c1c" stroke-width="1.26" stroke-linejoin="round"/>
<path d="M270.5 577.5 L273.5 577.5 L273.5 573.5 L281.5 573.5 L281.5 551.5 L290.5 551.5 L297.5 564.5" fill="none" stroke="#1c1c1c" stroke-width="1.26" stroke-linejoin="round"/>
<line x1="290.5" y1="511.4" x2="290.5" y2="551.6" stroke="#1c1c1c" stroke-width="1"/>
<line x1="288.5" y1="511.4" x2="288.5" y2="551.6" stroke="#8a8a8a" stroke-width="1"/>
<rect x="297.5" y="494.5" width="5" height="76" fill="none" stroke="#1c1c1c" stroke-width="1.1" rx="0"/>
<path d="M196.5 492.5 L200.5 506.5 L200.5 556.5 L196.5 571.5 Z" fill="#dedede" stroke="#1c1c1c" stroke-width="1" stroke-linejoin="round"/>
<path d="M192.5 482.5 L196.5 482.5 L196.5 581.5 L192.5 581.5 L192.5 569.5 L189.5 569.5 L189.5 548.5 L194.5 543.5 L194.5 521.5 L189.5 515.5 L189.5 495.5 L192.5 495.5 Z" fill="#dedede" stroke="#1c1c1c" stroke-width="1" stroke-linejoin="round"/>
<line x1="192.5" y1="495.5" x2="192.5" y2="518.6" stroke="#1c1c1c" stroke-width="1"/>
<line x1="192.5" y1="545.8" x2="192.5" y2="569.6" stroke="#1c1c1c" stroke-width="1"/>
<path d="M194.5 524.5 L169.5 524.5 L168.5 525.5 L168.5 537.5 L169.5 538.5 L194.5 538.5" fill="#fff" stroke="#1c1c1c" stroke-width="1" stroke-linejoin="round"/>
<line x1="169.1" y1="525.1" x2="194.4" y2="525.1" stroke="#1c1c1c" stroke-width="1.6"/>
<line x1="202.5" y1="506.7" x2="202.5" y2="556.3" stroke="#1c1c1c" stroke-width="1"/>
<path d="M200.5 506.5 L210.5 506.5" fill="none" stroke="#1c1c1c" stroke-width="1.26" stroke-linejoin="round"/>
<path d="M200.5 556.5 L210.5 556.5" fill="none" stroke="#1c1c1c" stroke-width="1.26" stroke-linejoin="round"/>
<line x1="157" y1="531.5" x2="319.5" y2="531.5" stroke="#1c1c1c" stroke-width="1" stroke-dasharray="10 2 2.5 2"/>
<line x1="168.5" y1="454.5" x2="168.5" y2="524" stroke="#1c1c1c" stroke-width="1" stroke-dasharray="22 2"/>
<line x1="192.5" y1="454.5" x2="192.5" y2="481.5" stroke="#1c1c1c" stroke-width="1" stroke-dasharray="22 2"/>
<line x1="303.5" y1="454.5" x2="303.5" y2="489.5" stroke="#1c1c1c" stroke-width="1" stroke-dasharray="22 2"/>
<line x1="168.6" y1="459.5" x2="192.5" y2="459.5" stroke="#1c1c1c" stroke-width="1"/>
<polygon points="168.6,459.5 176.3,457.6 176.3,461.4" fill="#1c1c1c"/>
<polygon points="192.5,459.5 184.8,457.6 184.8,461.4" fill="#1c1c1c"/>
<line x1="192.5" y1="459.5" x2="303.3" y2="459.5" stroke="#1c1c1c" stroke-width="1"/>
<polygon points="192.5,459.5 200.2,457.6 200.2,461.4" fill="#1c1c1c"/>
<polygon points="303.3,459.5 295.6,457.6 295.6,461.4" fill="#1c1c1c"/>
<text x="180.6" y="456.7" font-size="12" text-anchor="middle" fill="#1c1c1c" >E<tspan font-size="9">2</tspan></text>
<text x="247.5" y="456.9" font-size="12" text-anchor="middle" fill="#1c1c1c" >A</text>
<line x1="96" y1="483.3" x2="190.5" y2="483.3" stroke="#9c9c9c" stroke-width="1.5"/>
<line x1="96" y1="581" x2="187.5" y2="581" stroke="#9c9c9c" stroke-width="1.5"/>
<line x1="99.9" y1="483.3" x2="99.9" y2="581" stroke="#9c9c9c" stroke-width="1.5"/>
<polygon points="99.5,483.2 97.6,490.9 101.4,490.9" fill="#1c1c1c"/>
<polygon points="99.5,581 97.6,573.3 101.4,573.3" fill="#1c1c1c"/>
<text x="97.7" y="532.2" font-size="12" text-anchor="middle" fill="#1c1c1c" transform="rotate(-90 97.7 532.2)" >L</text>
<line x1="118" y1="495.5" x2="188" y2="495.5" stroke="#1c1c1c" stroke-width="1"/>
<line x1="118" y1="569.5" x2="186.5" y2="569.5" stroke="#1c1c1c" stroke-width="1"/>
<line x1="123.5" y1="495.4" x2="123.5" y2="569.6" stroke="#1c1c1c" stroke-width="1"/>
<polygon points="123.5,495.4 121.6,503.1 125.4,503.1" fill="#1c1c1c"/>
<polygon points="123.5,569.6 121.6,561.9 125.4,561.9" fill="#1c1c1c"/>
<text x="121.2" y="532.2" font-size="12" text-anchor="middle" fill="#1c1c1c" transform="rotate(-90 121.2 532.2)" >N</text>
<line x1="144" y1="525.5" x2="166.5" y2="525.5" stroke="#1c1c1c" stroke-width="1"/>
<line x1="144" y1="538.5" x2="166.5" y2="538.5" stroke="#1c1c1c" stroke-width="1"/>
<line x1="148.5" y1="509" x2="148.5" y2="553.5" stroke="#1c1c1c" stroke-width="1"/>
<polygon points="148.5,525.3 146.6,517.6 150.4,517.6" fill="#1c1c1c"/>
<polygon points="148.5,538.4 146.6,546.1 150.4,546.1" fill="#1c1c1c"/>
<text x="142.8" y="531.8" font-size="12" text-anchor="middle" fill="#1c1c1c" transform="rotate(-90 142.8 531.8)" >D<tspan font-size="9">2</tspan></text>
<line x1="304.5" y1="494.5" x2="336" y2="494.5" stroke="#1c1c1c" stroke-width="1"/>
<line x1="304.5" y1="570.5" x2="336" y2="570.5" stroke="#1c1c1c" stroke-width="1"/>
<line x1="331.5" y1="494.5" x2="331.5" y2="570.5" stroke="#1c1c1c" stroke-width="1"/>
<polygon points="331.5,494.5 329.6,502.2 333.4,502.2" fill="#1c1c1c"/>
<polygon points="331.5,570.5 329.6,562.8 333.4,562.8" fill="#1c1c1c"/>
<text x="330" y="532" font-size="12" text-anchor="middle" fill="#1c1c1c" transform="rotate(-90 330 532)" >DF</text>
<circle cx="177.8" cy="549.9" r="7.5" fill="#858585" stroke="none" stroke-width="0"/>
<text x="177.8" y="554.2" font-size="12" text-anchor="middle" fill="#ffffff" font-weight="bold" >2</text>
<line x1="188.5" y1="572.5" x2="188.5" y2="612.6" stroke="#1c1c1c" stroke-width="1"/>
<line x1="191.5" y1="583" x2="191.5" y2="612.6" stroke="#1c1c1c" stroke-width="1"/>
<line x1="196.5" y1="583" x2="196.5" y2="612.6" stroke="#1c1c1c" stroke-width="1"/>
<line x1="164.1" y1="609.5" x2="222.7" y2="609.5" stroke="#1c1c1c" stroke-width="1"/>
<polygon points="188.4,609.5 180.7,607.6 180.7,611.4" fill="#1c1c1c"/>
<polygon points="196.3,609.5 204,607.6 204,611.4" fill="#1c1c1c"/>
<text x="172.6" y="607.6" font-size="12" text-anchor="middle" fill="#1c1c1c" >P</text>
<text x="214.6" y="607.6" font-size="12" text-anchor="middle" fill="#1c1c1c" >Q</text>
<text x="271.6" y="599.7" font-size="12" text-anchor="start" fill="#a3a3ab" font-weight="bold" >RCV 202NF..</text>
<text x="271.6" y="611.3" font-size="12" text-anchor="start" fill="#a3a3ab" font-weight="bold" >RCV 203NF..</text>
<path d="M432.5 515.5 L432.5 506.5 L440.5 506.5" fill="none" stroke="#1c1c1c" stroke-width="1.26" stroke-linejoin="round"/>
<path d="M432.5 548.5 L432.5 556.5 L440.5 556.5" fill="none" stroke="#1c1c1c" stroke-width="1.26" stroke-linejoin="round"/>
<path d="M 440.5 556.4 L 440.5 504.6 Q 440.6 503.1 442.1 502.6 Q 451.3 499 460.8 497.3 Q 475.3 495 491.1 494.3" fill="none" stroke="#1c1c1c" stroke-width="1.34" stroke-linejoin="round" />
<path d="M 440.5 556.4 L 440.5 569.6 Q 440.6 571.2 442.3 571.4 L 460.7 573.2 L 460.7 580.9 L 484.7 584.1 L 491.1 584.6" fill="none" stroke="#1c1c1c" stroke-width="1.34" stroke-linejoin="round" />
<path d="M484.5 584.5 L484.5 577.5 L491.5 577.5" fill="none" stroke="#1c1c1c" stroke-width="0.9" stroke-linejoin="round"/>
<line x1="460.5" y1="542.2" x2="460.5" y2="573.2" stroke="#1c1c1c" stroke-width="1"/>
<path d="M 491.1 494.3 L 491.1 493.9 Q 491.1 493.3 491.8 493.3 L 499.3 493.3 Q 500 493.3 500 493.9 L 500 584.6 Q 500 585.3 499.3 585.3 L 491.8 585.3 Q 491.1 585.3 491.1 584.6" fill="none" stroke="#1c1c1c" stroke-width="1.23" stroke-linejoin="round" />
<line x1="491.5" y1="494.3" x2="491.5" y2="577.4" stroke="#8a8a8a" stroke-width="1"/>
<line x1="493.5" y1="493.4" x2="493.5" y2="585.2" stroke="#1c1c1c" stroke-width="1"/>
<line x1="496.5" y1="493.4" x2="496.5" y2="585.2" stroke="#777" stroke-width="1"/>
<path d="M 500 499 L 509.1 499 Q 510.9 499 510.9 500.8 L 510.9 511.4 L 523.6 511.4 L 523.6 524.4 L 526 524.4" fill="none" stroke="#1c1c1c" stroke-width="1.23" stroke-linejoin="round" />
<path d="M 500 576.6 L 502.3 576.6 L 502.3 574 L 510.9 574 L 510.9 551.4 L 523.6 551.4 L 523.6 537.2 L 526 537.2" fill="none" stroke="#1c1c1c" stroke-width="1.23" stroke-linejoin="round" />
<line x1="520.5" y1="511.4" x2="520.5" y2="551.4" stroke="#1c1c1c" stroke-width="1"/>
<line x1="522.5" y1="511.4" x2="522.5" y2="551.4" stroke="#8a8a8a" stroke-width="0.7"/>
<path d="M526.5 527.5 L540.5 527.5 L541.5 528.5 L541.5 535.5 L540.5 536.5 L526.5 536.5" fill="none" stroke="#1c1c1c" stroke-width="1" stroke-linejoin="round"/>
<line x1="526.5" y1="524.4" x2="526.5" y2="537.2" stroke="#1c1c1c" stroke-width="1"/>
<line x1="526.5" y1="527.7" x2="540.8" y2="527.7" stroke="#1c1c1c" stroke-width="1.7"/>
<path d="M426.5 492.5 L431.5 506.5 L431.5 556.5 L426.5 571.5 Z" fill="#dedede" stroke="#1c1c1c" stroke-width="1" stroke-linejoin="round"/>
<path d="M423.5 482.5 L426.5 482.5 L426.5 581.5 L423.5 581.5 L423.5 569.5 L420.5 569.5 L420.5 548.5 L425.5 543.5 L425.5 521.5 L420.5 515.5 L420.5 495.5 L423.5 495.5 Z" fill="#dedede" stroke="#1c1c1c" stroke-width="1" stroke-linejoin="round"/>
<line x1="423.5" y1="495.5" x2="423.5" y2="518.6" stroke="#1c1c1c" stroke-width="1"/>
<line x1="423.5" y1="545.8" x2="423.5" y2="569.6" stroke="#1c1c1c" stroke-width="1"/>
<path d="M425.5 524.5 L400.5 524.5 L399.5 525.5 L399.5 537.5 L400.5 538.5 L425.5 538.5" fill="#fff" stroke="#1c1c1c" stroke-width="1" stroke-linejoin="round"/>
<line x1="399.7" y1="525.1" x2="425" y2="525.1" stroke="#1c1c1c" stroke-width="1.6"/>
<line x1="433.5" y1="506.7" x2="433.5" y2="556.3" stroke="#1c1c1c" stroke-width="1"/>
<path d="M431.5 506.5 L440.5 506.5" fill="none" stroke="#1c1c1c" stroke-width="1.26" stroke-linejoin="round"/>
<path d="M431.5 556.5 L440.5 556.5" fill="none" stroke="#1c1c1c" stroke-width="1.26" stroke-linejoin="round"/>
<line x1="385" y1="531.5" x2="551" y2="531.5" stroke="#1c1c1c" stroke-width="1" stroke-dasharray="10 2 2.5 2"/>
<line x1="397.5" y1="454.8" x2="397.5" y2="523.5" stroke="#1c1c1c" stroke-width="1"/>
<line x1="423.5" y1="454.8" x2="423.5" y2="481.5" stroke="#1c1c1c" stroke-width="1"/>
<line x1="525.5" y1="454.8" x2="525.5" y2="524" stroke="#1c1c1c" stroke-width="1"/>
<line x1="541.5" y1="456.5" x2="541.5" y2="527" stroke="#1c1c1c" stroke-width="1"/>
<line x1="397.5" y1="459.5" x2="423.3" y2="459.5" stroke="#1c1c1c" stroke-width="1"/>
<polygon points="397.5,459.5 405.2,457.6 405.2,461.4" fill="#1c1c1c"/>
<polygon points="423.3,459.5 415.6,457.6 415.6,461.4" fill="#1c1c1c"/>
<line x1="423.3" y1="459.5" x2="525.3" y2="459.5" stroke="#1c1c1c" stroke-width="1"/>
<polygon points="423.3,459.5 431,457.6 431,461.4" fill="#1c1c1c"/>
<polygon points="525.3,459.5 517.6,457.6 517.6,461.4" fill="#1c1c1c"/>
<line x1="541.3" y1="459.5" x2="555.8" y2="459.5" stroke="#1c1c1c" stroke-width="1"/>
<polygon points="541.3,459.5 549,457.6 549,461.4" fill="#1c1c1c"/>
<text x="410.6" y="456.7" font-size="12" text-anchor="middle" fill="#1c1c1c" >E<tspan font-size="9">2</tspan></text>
<text x="473" y="456.9" font-size="12" text-anchor="middle" fill="#1c1c1c" >A<tspan font-size="9">R</tspan></text>
<text x="534.4" y="456.7" font-size="12" text-anchor="middle" fill="#1c1c1c" >E<tspan font-size="9">1</tspan></text>
<line x1="374" y1="524.5" x2="396" y2="524.5" stroke="#1c1c1c" stroke-width="1"/>
<line x1="374" y1="538.5" x2="396" y2="538.5" stroke="#1c1c1c" stroke-width="1"/>
<line x1="378.5" y1="512.8" x2="378.5" y2="548.4" stroke="#1c1c1c" stroke-width="1"/>
<polygon points="378.5,524.8 376.6,517.1 380.4,517.1" fill="#1c1c1c"/>
<polygon points="378.5,538 376.6,545.7 380.4,545.7" fill="#1c1c1c"/>
<text x="373.5" y="531.8" font-size="12" text-anchor="middle" fill="#1c1c1c" transform="rotate(-90 373.5 531.8)" >D<tspan font-size="9">2</tspan></text>
<line x1="543" y1="527.5" x2="567" y2="527.5" stroke="#1c1c1c" stroke-width="1"/>
<line x1="543" y1="536.5" x2="567" y2="536.5" stroke="#1c1c1c" stroke-width="1"/>
<line x1="563.5" y1="502.5" x2="563.5" y2="547.2" stroke="#1c1c1c" stroke-width="1"/>
<polygon points="563.5,527 561.6,519.3 565.4,519.3" fill="#1c1c1c"/>
<polygon points="563.5,536.1 561.6,543.8 565.4,543.8" fill="#1c1c1c"/>
<text x="561" y="509.2" font-size="12" text-anchor="middle" fill="#1c1c1c" transform="rotate(-90 561 509.2)" >D<tspan font-size="9">1</tspan></text>
<circle cx="410.8" cy="547.8" r="7.5" fill="#858585" stroke="none" stroke-width="0"/>
<text x="410.8" y="552.1" font-size="12" text-anchor="middle" fill="#ffffff" font-weight="bold" >2</text>
<circle cx="534.2" cy="547.2" r="7.5" fill="#858585" stroke="none" stroke-width="0"/>
<text x="534.2" y="551.5" font-size="12" text-anchor="middle" fill="#ffffff" font-weight="bold" >1</text>
<text x="499.8" y="599.2" font-size="12" text-anchor="start" fill="#a3a3ab" font-weight="bold" >CV 202NF..</text>
<text x="499.8" y="610.8" font-size="12" text-anchor="start" fill="#a3a3ab" font-weight="bold" >CV 203NF..</text>
<path d="M203.5 728.5 L203.5 719.5 L211.5 719.5" fill="none" stroke="#1c1c1c" stroke-width="1.26" stroke-linejoin="round"/>
<path d="M203.5 760.5 L203.5 769.5 L211.5 769.5" fill="none" stroke="#1c1c1c" stroke-width="1.26" stroke-linejoin="round"/>
<path d="M211.5 777.5 L211.5 715.5 L228.5 707.5 L255.5 705.5" fill="none" stroke="#1c1c1c" stroke-width="1.38" stroke-linejoin="round"/>
<path d="M 212.5 716.4 L 233.4 716.4 Q 234.6 716.4 234.6 715.2 L 234.6 712.7 Q 234.6 711.5 233.4 711.5 L 223 711.5" fill="none" stroke="#1c1c1c" stroke-width="1" stroke-linejoin="round" />
<path d="M 255.9 705.9 L 255.9 704.9 Q 255.9 704.3 256.6 704.3 L 262.8 704.3 Q 263.5 704.3 263.5 704.9 L 263.5 796.6 Q 263.5 797.3 262.8 797.3 L 256.6 797.3" fill="none" stroke="#1c1c1c" stroke-width="1.23" stroke-linejoin="round" />
<line x1="255.5" y1="705.9" x2="255.5" y2="792.7" stroke="#8a8a8a" stroke-width="1"/>
<line x1="258.5" y1="704.5" x2="258.5" y2="797.2" stroke="#1c1c1c" stroke-width="1"/>
<line x1="261.5" y1="704.5" x2="261.5" y2="797.2" stroke="#777" stroke-width="1"/>
<line x1="232.4" y1="758.3" x2="195.3" y2="793.4" stroke="#1c1c1c" stroke-width="1"/>
<path d="M195.5 793.5 L195.5 799.5 L256.5 799.5 L256.5 797.5" fill="none" stroke="#1c1c1c" stroke-width="1.38" stroke-linejoin="round"/>
<line x1="197.5" y1="792.5" x2="255.9" y2="792.5" stroke="#1c1c1c" stroke-width="1"/>
<line x1="201.5" y1="792.8" x2="201.5" y2="799.2" stroke="#1c1c1c" stroke-width="1" stroke-dasharray="2 1.3"/>
<line x1="205.5" y1="792.8" x2="205.5" y2="799.2" stroke="#1c1c1c" stroke-width="1" stroke-dasharray="2 1.3"/>
<line x1="234.5" y1="792.8" x2="234.5" y2="799.2" stroke="#1c1c1c" stroke-width="1" stroke-dasharray="2 1.3"/>
<line x1="237.5" y1="792.8" x2="237.5" y2="799.2" stroke="#1c1c1c" stroke-width="1" stroke-dasharray="2 1.3"/>
<path d="M263.5 710.5 L273.5 710.5 L273.5 723.5 L285.5 723.5 L291.5 712.5" fill="none" stroke="#1c1c1c" stroke-width="1.26" stroke-linejoin="round"/>
<path d="M263.5 788.5 L265.5 788.5 L265.5 785.5 L273.5 785.5 L273.5 763.5 L285.5 763.5 L291.5 776.5" fill="none" stroke="#1c1c1c" stroke-width="1.26" stroke-linejoin="round"/>
<line x1="285.5" y1="723.3" x2="285.5" y2="763.5" stroke="#1c1c1c" stroke-width="1"/>
<line x1="283.5" y1="723.3" x2="283.5" y2="763.5" stroke="#8a8a8a" stroke-width="1"/>
<rect x="291.5" y="705.5" width="5" height="77" fill="none" stroke="#1c1c1c" stroke-width="1.1" rx="0"/>
<rect x="190" y="780" width="10.5" height="22" fill="#fff" stroke="none" stroke-width="0" rx="0"/>
<path d="M198.5 705.5 L203.5 719.5 L203.5 769.5 L194.5 794.5 L198.5 794.5 Z" fill="#dedede" stroke="#1c1c1c" stroke-width="1" stroke-linejoin="round"/>
<path d="M193.5 695.5 L198.5 695.5 L198.5 786.5 L194.5 794.5 L193.5 794.5 L193.5 782.5 L191.5 782.5 L191.5 761.5 L196.5 756.5 L196.5 733.5 L191.5 728.5 L191.5 708.5 L193.5 708.5 Z" fill="#dedede" stroke="#1c1c1c" stroke-width="1" stroke-linejoin="round"/>
<line x1="193.5" y1="708.5" x2="193.5" y2="730.8" stroke="#1c1c1c" stroke-width="1"/>
<line x1="193.5" y1="758.6" x2="193.5" y2="782.7" stroke="#1c1c1c" stroke-width="1"/>
<path d="M196.5 737.5 L170.5 737.5 L169.5 738.5 L169.5 749.5 L170.5 750.5 L196.5 750.5" fill="#fff" stroke="#1c1c1c" stroke-width="1" stroke-linejoin="round"/>
<line x1="170.3" y1="738" x2="195.8" y2="738" stroke="#1c1c1c" stroke-width="1.6"/>
<line x1="205.5" y1="719.7" x2="205.5" y2="769.4" stroke="#1c1c1c" stroke-width="1"/>
<path d="M203.5 719.5 L211.5 719.5" fill="none" stroke="#1c1c1c" stroke-width="1.26" stroke-linejoin="round"/>
<path d="M203.5 769.5 L211.5 769.5" fill="none" stroke="#1c1c1c" stroke-width="1.26" stroke-linejoin="round"/>
<line x1="232.4" y1="758.3" x2="194.8" y2="794.4" stroke="#1c1c1c" stroke-width="0.9"/>
<path d="M200.5 792.5 L200.5 799.5 L256.5 799.5" fill="none" stroke="#1c1c1c" stroke-width="1.38" stroke-linejoin="round"/>
<line x1="159" y1="744.5" x2="305" y2="744.5" stroke="#1c1c1c" stroke-width="1" stroke-dasharray="38 2.5 3 2.5"/>
<line x1="169.5" y1="682.5" x2="169.5" y2="737" stroke="#1c1c1c" stroke-width="1"/>
<line x1="193.5" y1="682.5" x2="193.5" y2="694.5" stroke="#1c1c1c" stroke-width="1"/>
<line x1="297.5" y1="682.5" x2="297.5" y2="703" stroke="#1c1c1c" stroke-width="1"/>
<line x1="169.4" y1="687.5" x2="193.5" y2="687.5" stroke="#1c1c1c" stroke-width="1"/>
<polygon points="169.4,687.5 177.1,685.6 177.1,689.4" fill="#1c1c1c"/>
<polygon points="193.5,687.5 185.8,685.6 185.8,689.4" fill="#1c1c1c"/>
<line x1="193.5" y1="687.5" x2="297.6" y2="687.5" stroke="#1c1c1c" stroke-width="1"/>
<polygon points="193.5,687.5 201.2,685.6 201.2,689.4" fill="#1c1c1c"/>
<polygon points="297.6,687.5 289.9,685.6 289.9,689.4" fill="#1c1c1c"/>
<text x="181.4" y="684.9" font-size="12" text-anchor="middle" fill="#1c1c1c" >E<tspan font-size="9">2</tspan></text>
<text x="242.8" y="685.1" font-size="12" text-anchor="middle" fill="#1c1c1c" >A</text>
<line x1="97" y1="695.7" x2="192" y2="695.7" stroke="#9c9c9c" stroke-width="1.5"/>
<line x1="97" y1="794.5" x2="194" y2="794.5" stroke="#1c1c1c" stroke-width="1"/>
<line x1="101.5" y1="695.8" x2="101.5" y2="794.4" stroke="#1c1c1c" stroke-width="1"/>
<polygon points="101.5,695.8 99.6,703.5 103.4,703.5" fill="#1c1c1c"/>
<polygon points="101.5,794.4 99.6,786.7 103.4,786.7" fill="#1c1c1c"/>
<text x="99.5" y="745.2" font-size="12" text-anchor="middle" fill="#1c1c1c" transform="rotate(-90 99.5 745.2)" >L</text>
<line x1="119.5" y1="708.5" x2="190.5" y2="708.5" stroke="#1c1c1c" stroke-width="1"/>
<line x1="119.5" y1="782.5" x2="190.5" y2="782.5" stroke="#1c1c1c" stroke-width="1"/>
<line x1="124.5" y1="708.5" x2="124.5" y2="782.6" stroke="#1c1c1c" stroke-width="1"/>
<polygon points="124.5,708.5 122.6,716.2 126.4,716.2" fill="#1c1c1c"/>
<polygon points="124.5,782.6 122.6,774.9 126.4,774.9" fill="#1c1c1c"/>
<text x="121.5" y="745.2" font-size="12" text-anchor="middle" fill="#1c1c1c" transform="rotate(-90 121.5 745.2)" >N</text>
<line x1="143.5" y1="738.5" x2="167.5" y2="738.5" stroke="#1c1c1c" stroke-width="1"/>
<line x1="143.5" y1="750.5" x2="167.5" y2="750.5" stroke="#1c1c1c" stroke-width="1"/>
<line x1="147.5" y1="722.4" x2="147.5" y2="766.7" stroke="#1c1c1c" stroke-width="1"/>
<polygon points="147.5,738.2 145.6,730.5 149.4,730.5" fill="#1c1c1c"/>
<polygon points="147.5,750.9 145.6,758.6 149.4,758.6" fill="#1c1c1c"/>
<text x="143.5" y="744.8" font-size="12" text-anchor="middle" fill="#1c1c1c" transform="rotate(-90 143.5 744.8)" >D<tspan font-size="9">2</tspan></text>
<line x1="298.8" y1="705.5" x2="326.7" y2="705.5" stroke="#1c1c1c" stroke-width="1"/>
<line x1="298.8" y1="781.5" x2="326.7" y2="781.5" stroke="#1c1c1c" stroke-width="1"/>
<line x1="322.5" y1="705.4" x2="322.5" y2="781.7" stroke="#1c1c1c" stroke-width="1"/>
<polygon points="322.5,705.4 320.6,713.1 324.4,713.1" fill="#1c1c1c"/>
<polygon points="322.5,781.7 320.6,774 324.4,774" fill="#1c1c1c"/>
<text x="320" y="744.4" font-size="12" text-anchor="middle" fill="#1c1c1c" transform="rotate(-90 320 744.4)" >DF</text>
<circle cx="179.3" cy="761.8" r="7.5" fill="#858585" stroke="none" stroke-width="0"/>
<text x="179.3" y="766.1" font-size="12" text-anchor="middle" fill="#ffffff" font-weight="bold" >2</text>
<line x1="203.5" y1="787" x2="203.5" y2="805" stroke="#1c1c1c" stroke-width="1" stroke-dasharray="5 2"/>
<line x1="236.5" y1="787" x2="236.5" y2="805" stroke="#1c1c1c" stroke-width="1" stroke-dasharray="5 2"/>
<line x1="190.5" y1="784.5" x2="190.5" y2="824.8" stroke="#1c1c1c" stroke-width="1"/>
<line x1="193.5" y1="796" x2="193.5" y2="824.8" stroke="#1c1c1c" stroke-width="1"/>
<line x1="198.5" y1="796" x2="198.5" y2="824.8" stroke="#1c1c1c" stroke-width="1"/>
<line x1="168.2" y1="822.5" x2="224.2" y2="822.5" stroke="#1c1c1c" stroke-width="1"/>
<polygon points="190.6,822.5 182.9,820.6 182.9,824.4" fill="#1c1c1c"/>
<polygon points="198.5,822.5 206.2,820.6 206.2,824.4" fill="#1c1c1c"/>
<text x="174.2" y="819.6" font-size="12" text-anchor="middle" fill="#1c1c1c" >P</text>
<text x="216.5" y="819.6" font-size="12" text-anchor="middle" fill="#1c1c1c" >Q</text>
<text x="271.6" y="816.4" font-size="12" text-anchor="start" fill="#a3a3ab" font-weight="bold" >RCV 202PF..</text>
<text x="271.6" y="828" font-size="12" text-anchor="start" fill="#a3a3ab" font-weight="bold" >RCV 203PF..</text>
<path d="M432.5 728.5 L432.5 719.5 L440.5 719.5" fill="none" stroke="#1c1c1c" stroke-width="1.26" stroke-linejoin="round"/>
<path d="M432.5 760.5 L432.5 769.5 L440.5 769.5" fill="none" stroke="#1c1c1c" stroke-width="1.26" stroke-linejoin="round"/>
<path d="M440.5 777.5 L440.5 715.5 L457.5 707.5 L485.5 705.5" fill="none" stroke="#1c1c1c" stroke-width="1.38" stroke-linejoin="round"/>
<path d="M 441.9 716.4 L 462.8 716.4 Q 464 716.4 464 715.2 L 464 712.7 Q 464 711.5 462.8 711.5 L 452.4 711.5" fill="none" stroke="#1c1c1c" stroke-width="1" stroke-linejoin="round" />
<path d="M 485.3 705.9 L 485.3 704.9 Q 485.3 704.3 486 704.3 L 492.2 704.3 Q 492.9 704.3 492.9 704.9 L 492.9 796.6 Q 492.9 797.3 492.2 797.3 L 486 797.3" fill="none" stroke="#1c1c1c" stroke-width="1.23" stroke-linejoin="round" />
<line x1="485.5" y1="705.9" x2="485.5" y2="792.7" stroke="#8a8a8a" stroke-width="1"/>
<line x1="488.5" y1="704.5" x2="488.5" y2="797.2" stroke="#1c1c1c" stroke-width="1"/>
<line x1="490.5" y1="704.5" x2="490.5" y2="797.2" stroke="#777" stroke-width="1"/>
<line x1="461.8" y1="758.3" x2="424.7" y2="793.4" stroke="#1c1c1c" stroke-width="1"/>
<path d="M424.5 793.5 L424.5 799.5 L486.5 799.5 L486.5 797.5" fill="none" stroke="#1c1c1c" stroke-width="1.38" stroke-linejoin="round"/>
<line x1="426.9" y1="792.5" x2="485.3" y2="792.5" stroke="#1c1c1c" stroke-width="1"/>
<line x1="431.5" y1="792.8" x2="431.5" y2="799.2" stroke="#1c1c1c" stroke-width="1" stroke-dasharray="2 1.3"/>
<line x1="434.5" y1="792.8" x2="434.5" y2="799.2" stroke="#1c1c1c" stroke-width="1" stroke-dasharray="2 1.3"/>
<line x1="464.5" y1="792.8" x2="464.5" y2="799.2" stroke="#1c1c1c" stroke-width="1" stroke-dasharray="2 1.3"/>
<line x1="467.5" y1="792.8" x2="467.5" y2="799.2" stroke="#1c1c1c" stroke-width="1" stroke-dasharray="2 1.3"/>
<path d="M 493.5 711 L 503.4 711 Q 505.2 711 505.2 712.8 L 505.2 725.2 L 516.2 725.2 L 516.2 739.4 L 518.5 739.4" fill="none" stroke="#1c1c1c" stroke-width="1.23" stroke-linejoin="round" />
<path d="M 493.5 791.6 L 495.8 791.6 L 495.8 787.8 L 505.2 787.8 L 505.2 764.8 L 516.2 764.8 L 516.2 749.9 L 518.5 749.9" fill="none" stroke="#1c1c1c" stroke-width="1.23" stroke-linejoin="round" />
<line x1="512.5" y1="725.2" x2="512.5" y2="764.8" stroke="#1c1c1c" stroke-width="1"/>
<line x1="514.5" y1="725.2" x2="514.5" y2="764.8" stroke="#8a8a8a" stroke-width="0.7"/>
<path d="M518.5 740.5 L533.5 740.5 L534.5 741.5 L534.5 748.5 L533.5 749.5 L518.5 749.5" fill="none" stroke="#1c1c1c" stroke-width="1" stroke-linejoin="round"/>
<line x1="518.5" y1="739.4" x2="518.5" y2="749.9" stroke="#1c1c1c" stroke-width="1"/>
<line x1="519" y1="740.7" x2="533.8" y2="740.7" stroke="#1c1c1c" stroke-width="1.7"/>
<path d="M427.5 705.5 L432.5 719.5 L432.5 769.5 L424.5 794.5 L427.5 794.5 Z" fill="#dedede" stroke="#1c1c1c" stroke-width="1" stroke-linejoin="round"/>
<path d="M423.5 695.5 L427.5 695.5 L427.5 786.5 L424.5 794.5 L423.5 794.5 L423.5 782.5 L421.5 782.5 L421.5 761.5 L425.5 756.5 L425.5 733.5 L421.5 728.5 L421.5 708.5 L423.5 708.5 Z" fill="#dedede" stroke="#1c1c1c" stroke-width="1" stroke-linejoin="round"/>
<line x1="423.5" y1="708.5" x2="423.5" y2="730.8" stroke="#1c1c1c" stroke-width="1"/>
<line x1="423.5" y1="758.6" x2="423.5" y2="782.7" stroke="#1c1c1c" stroke-width="1"/>
<path d="M425.5 737.5 L400.5 737.5 L399.5 738.5 L399.5 749.5 L400.5 750.5 L425.5 750.5" fill="#fff" stroke="#1c1c1c" stroke-width="1" stroke-linejoin="round"/>
<line x1="399.9" y1="738" x2="425.4" y2="738" stroke="#1c1c1c" stroke-width="1.6"/>
<line x1="434.5" y1="719.7" x2="434.5" y2="769.4" stroke="#1c1c1c" stroke-width="1"/>
<path d="M432.5 719.5 L440.5 719.5" fill="none" stroke="#1c1c1c" stroke-width="1.26" stroke-linejoin="round"/>
<path d="M432.5 769.5 L440.5 769.5" fill="none" stroke="#1c1c1c" stroke-width="1.26" stroke-linejoin="round"/>
<line x1="431.3" y1="719.7" x2="431.3" y2="762" stroke="#111" stroke-width="1.8"/>
<line x1="461.4" y1="758.6" x2="425.6" y2="793.8" stroke="#1c1c1c" stroke-width="0.9"/>
<line x1="390" y1="744.5" x2="547" y2="744.5" stroke="#1c1c1c" stroke-width="1" stroke-dasharray="38 2.5 3 2.5"/>
<line x1="397.5" y1="683" x2="397.5" y2="737" stroke="#1c1c1c" stroke-width="1"/>
<line x1="422.5" y1="683" x2="422.5" y2="694.5" stroke="#1c1c1c" stroke-width="1"/>
<line x1="518.5" y1="683" x2="518.5" y2="739" stroke="#1c1c1c" stroke-width="1"/>
<line x1="535.5" y1="684.5" x2="535.5" y2="740" stroke="#1c1c1c" stroke-width="1"/>
<line x1="397" y1="687.5" x2="422.6" y2="687.5" stroke="#1c1c1c" stroke-width="1"/>
<polygon points="397,687.5 404.7,685.6 404.7,689.4" fill="#1c1c1c"/>
<polygon points="422.6,687.5 414.9,685.6 414.9,689.4" fill="#1c1c1c"/>
<line x1="422.6" y1="687.5" x2="518.4" y2="687.5" stroke="#1c1c1c" stroke-width="1"/>
<polygon points="422.6,687.5 430.3,685.6 430.3,689.4" fill="#1c1c1c"/>
<polygon points="518.4,687.5 510.7,685.6 510.7,689.4" fill="#1c1c1c"/>
<line x1="535.6" y1="687.5" x2="550.3" y2="687.5" stroke="#1c1c1c" stroke-width="1"/>
<polygon points="535.6,687.5 543.3,685.6 543.3,689.4" fill="#1c1c1c"/>
<text x="410" y="684.9" font-size="12" text-anchor="middle" fill="#1c1c1c" >E<tspan font-size="9">2</tspan></text>
<text x="468.6" y="685.1" font-size="12" text-anchor="middle" fill="#1c1c1c" >A<tspan font-size="9">R</tspan></text>
<text x="528.4" y="684.9" font-size="12" text-anchor="middle" fill="#1c1c1c" >E<tspan font-size="9">1</tspan></text>
<line x1="374" y1="737.5" x2="396" y2="737.5" stroke="#1c1c1c" stroke-width="1"/>
<line x1="374" y1="751.5" x2="396" y2="751.5" stroke="#1c1c1c" stroke-width="1"/>
<line x1="379.5" y1="726.7" x2="379.5" y2="761.5" stroke="#1c1c1c" stroke-width="1"/>
<polygon points="379.5,737.9 377.6,730.2 381.4,730.2" fill="#1c1c1c"/>
<polygon points="379.5,751.1 377.6,758.8 381.4,758.8" fill="#1c1c1c"/>
<text x="374" y="744.8" font-size="12" text-anchor="middle" fill="#1c1c1c" transform="rotate(-90 374 744.8)" >D<tspan font-size="9">2</tspan></text>
<line x1="537" y1="740.5" x2="562" y2="740.5" stroke="#1c1c1c" stroke-width="1"/>
<line x1="537" y1="749.5" x2="562" y2="749.5" stroke="#1c1c1c" stroke-width="1"/>
<line x1="558.5" y1="715" x2="558.5" y2="761.5" stroke="#1c1c1c" stroke-width="1"/>
<polygon points="558.5,740.4 556.6,732.7 560.4,732.7" fill="#1c1c1c"/>
<polygon points="558.5,749.1 556.6,756.8 560.4,756.8" fill="#1c1c1c"/>
<text x="555.8" y="722.6" font-size="12" text-anchor="middle" fill="#1c1c1c" transform="rotate(-90 555.8 722.6)" >D<tspan font-size="9">1</tspan></text>
<circle cx="409.4" cy="762.6" r="7.5" fill="#858585" stroke="none" stroke-width="0"/>
<text x="409.4" y="766.9" font-size="12" text-anchor="middle" fill="#ffffff" font-weight="bold" >2</text>
<circle cx="530" cy="762.6" r="7.5" fill="#858585" stroke="none" stroke-width="0"/>
<text x="530" y="766.9" font-size="12" text-anchor="middle" fill="#ffffff" font-weight="bold" >1</text>
<line x1="432.5" y1="789.2" x2="432.5" y2="806" stroke="#1c1c1c" stroke-width="1" stroke-dasharray="5 2"/>
<line x1="465.5" y1="789.2" x2="465.5" y2="806" stroke="#1c1c1c" stroke-width="1" stroke-dasharray="5 2"/>
<text x="499.8" y="816.2" font-size="12" text-anchor="start" fill="#a3a3ab" font-weight="bold" >CV 202PF..</text>
<text x="499.8" y="827.8" font-size="12" text-anchor="start" fill="#a3a3ab" font-weight="bold" >CV 203PF..</text>
<path d="M 640.8 139 C 638.4 126 637.4 112 637.5 100 C 637.8 71 655.5 51 680.5 51 C 705.5 51 723.2 71 723.5 100 C 723.6 112 722.6 126 720.2 139" fill="none" stroke="#1c1c1c" stroke-width="1.46" stroke-linejoin="round" />
<path d="M 642.6 139 C 640.2 126 639.2 112 639.3 100 C 639.6 72.5 656.5 52.9 680.5 52.9 C 704.5 52.9 721.4 72.5 721.7 100 C 721.8 112 720.8 126 718.4 139" fill="none" stroke="#1c1c1c" stroke-width="0.8" stroke-linejoin="round" />
<path d="M 652 113.2 C 652.6 122 656 131 661 138.6" fill="none" stroke="#1c1c1c" stroke-width="1" stroke-linejoin="round" />
<path d="M 709 113.2 C 708.4 122 705 131 700 138.6" fill="none" stroke="#1c1c1c" stroke-width="1" stroke-linejoin="round" />
<path d="M 642.4 113.6 C 643 122 645.5 131 648.8 138.6" fill="none" stroke="#1c1c1c" stroke-width="0.8" stroke-linejoin="round" />
<path d="M 718.6 113.6 C 718 122 715.5 131 712.2 138.6" fill="none" stroke="#1c1c1c" stroke-width="0.8" stroke-linejoin="round" />
<path d="M639.6 94.2 L651.5 94.2 L651.5 113.2 L641.4 113.2" fill="none" stroke="#1c1c1c" stroke-width="0.9" stroke-linejoin="round"/>
<path d="M721.4 94.2 L709.5 94.2 L709.5 113.2 L719.6 113.2" fill="none" stroke="#1c1c1c" stroke-width="0.9" stroke-linejoin="round"/>
<path d="M 652 88 C 653 80 656.5 72.5 662 67.5" fill="none" stroke="#1c1c1c" stroke-width="0.9" stroke-linejoin="round" />
<path d="M 709 88 C 708 80 704.5 72.5 699 67.5" fill="none" stroke="#1c1c1c" stroke-width="0.9" stroke-linejoin="round" />
<path d="M 646.5 78 C 649.5 70 654 63.5 660 59" fill="none" stroke="#1c1c1c" stroke-width="0.8" stroke-linejoin="round" />
<path d="M 714.5 78 C 711.5 70 707 63.5 701 59" fill="none" stroke="#1c1c1c" stroke-width="0.8" stroke-linejoin="round" />
<path d="M 656 62.5 L 671 57 L 671 64.2 C 667.5 65.4 664.8 67.4 662.6 70 L 655.2 73.4" fill="none" stroke="#1c1c1c" stroke-width="0.9" stroke-linejoin="round" />
<path d="M 705 62.5 L 690 57 L 690 64.2 C 693.5 65.4 696.2 67.4 698.4 70 L 705.8 73.4" fill="none" stroke="#1c1c1c" stroke-width="0.9" stroke-linejoin="round" />
<path d="M 671 64.2 C 677 62.6 684 62.6 690 64.2" fill="none" stroke="#1c1c1c" stroke-width="0.9" stroke-linejoin="round" />
<circle cx="680.5" cy="70.5" r="4.2" fill="#fff" stroke="#1c1c1c" stroke-width="0.9"/>
<circle cx="680.5" cy="113.1" r="4.2" fill="#fff" stroke="#1c1c1c" stroke-width="0.9"/>
<circle cx="659.2" cy="91.8" r="4.2" fill="#fff" stroke="#1c1c1c" stroke-width="0.9"/>
<circle cx="701.8" cy="91.8" r="4.2" fill="#fff" stroke="#1c1c1c" stroke-width="0.9"/>
<circle cx="680.5" cy="91.8" r="18.9" fill="#fff" stroke="#1c1c1c" stroke-width="1"/>
<circle cx="680.5" cy="91.8" r="16.7" fill="none" stroke="#1c1c1c" stroke-width="0.8"/>
<circle cx="680.5" cy="70.5" r="1.5" fill="#999" stroke="#1c1c1c" stroke-width="0.9"/>
<circle cx="680.5" cy="113.1" r="1.5" fill="#999" stroke="#1c1c1c" stroke-width="0.9"/>
<circle cx="659.2" cy="91.8" r="1.5" fill="#999" stroke="#1c1c1c" stroke-width="0.9"/>
<circle cx="701.8" cy="91.8" r="1.5" fill="#999" stroke="#1c1c1c" stroke-width="0.9"/>
<circle cx="680.5" cy="91.8" r="10.55" fill="#fff" stroke="#111" stroke-width="5.5"/>
<circle cx="680.5" cy="91.8" r="5.7" fill="none" stroke="#1c1c1c" stroke-width="0.9"/>
<circle cx="680.5" cy="91.8" r="3.2" fill="none" stroke="#555" stroke-width="0.7"/>
<circle cx="680.5" cy="91.8" r="1.6" fill="#111" stroke="none" stroke-width="0"/>
<path d="M 662.2 146 L 666 128.6 Q 666.4 127 668 127 L 693 127 Q 694.6 127 695 128.6 L 698.8 146" fill="none" stroke="#1c1c1c" stroke-width="1.23" stroke-linejoin="round" />
<line x1="664.2" y1="135.5" x2="696.8" y2="135.5" stroke="#1c1c1c" stroke-width="1"/>
<rect x="667.5" y="118.5" width="26" height="7" fill="#fff" stroke="#1c1c1c" stroke-width="1" rx="1.6"/>
<text x="680.35" y="123.6" font-size="4.6" text-anchor="middle" fill="#111" font-weight="bold" textLength="19.5" lengthAdjust="spacingAndGlyphs">VARMEC</text>
<line x1="677.8" y1="136.5" x2="677.8" y2="145.5" stroke="#777" stroke-width="0.7"/>
<line x1="679.4" y1="136.5" x2="679.4" y2="145.5" stroke="#aaa" stroke-width="0.7"/>
<line x1="682" y1="136.5" x2="682" y2="145.5" stroke="#aaa" stroke-width="0.7"/>
<path d="M 661.8 139 L 639.6 139 Q 637.4 139 637.4 141.2 L 637.4 145.2 Q 637.4 147.4 639.6 147.4 L 659.4 147.4 Q 661.6 147.4 662.2 146" fill="none" stroke="#1c1c1c" stroke-width="1.34" stroke-linejoin="round" />
<path d="M 699.2 139 L 721.4 139 Q 723.6 139 723.6 141.2 L 723.6 145.2 Q 723.6 147.4 721.4 147.4 L 701.6 147.4 Q 699.4 147.4 698.8 146" fill="none" stroke="#1c1c1c" stroke-width="1.34" stroke-linejoin="round" />
<line x1="641.5" y1="139" x2="641.5" y2="147.4" stroke="#1c1c1c" stroke-width="1"/>
<line x1="646.5" y1="139" x2="646.5" y2="147.4" stroke="#1c1c1c" stroke-width="1"/>
<line x1="714.5" y1="139" x2="714.5" y2="147.4" stroke="#1c1c1c" stroke-width="1"/>
<line x1="719.5" y1="139" x2="719.5" y2="147.4" stroke="#1c1c1c" stroke-width="1"/>
<line x1="680.5" y1="44.5" x2="680.5" y2="157" stroke="#1c1c1c" stroke-width="1" stroke-dasharray="7 2 2 2"/>
<line x1="629.5" y1="91.5" x2="702" y2="91.5" stroke="#1c1c1c" stroke-width="1" stroke-dasharray="7 2 2 2"/>
<line x1="654.5" y1="12" x2="654.5" y2="92.5" stroke="#1c1c1c" stroke-width="1"/>
<line x1="705.5" y1="12" x2="705.5" y2="88.5" stroke="#1c1c1c" stroke-width="1"/>
<line x1="654.6" y1="15.5" x2="705.6" y2="15.5" stroke="#1c1c1c" stroke-width="1"/>
<polygon points="654.6,15.5 662.3,13.6 662.3,17.4" fill="#1c1c1c"/>
<polygon points="705.6,15.5 697.9,13.6 697.9,17.4" fill="#1c1c1c"/>
<text x="680.4" y="12.7" font-size="11.3" text-anchor="middle" fill="#1c1c1c" >90</text>
<line x1="660.5" y1="31" x2="660.5" y2="91" stroke="#1c1c1c" stroke-width="1"/>
<line x1="700.5" y1="31" x2="700.5" y2="91" stroke="#1c1c1c" stroke-width="1"/>
<line x1="660" y1="34.5" x2="700.6" y2="34.5" stroke="#1c1c1c" stroke-width="1"/>
<polygon points="660,34.5 667.7,32.6 667.7,36.4" fill="#1c1c1c"/>
<polygon points="700.6,34.5 692.9,32.6 692.9,36.4" fill="#1c1c1c"/>
<text x="680.4" y="31.7" font-size="11.3" text-anchor="middle" fill="#1c1c1c" >75</text>
<line x1="693.8" y1="50.5" x2="773" y2="50.5" stroke="#1c1c1c" stroke-width="1"/>
<line x1="724.5" y1="147.5" x2="774" y2="147.5" stroke="#1c1c1c" stroke-width="1"/>
<line x1="769.5" y1="50.9" x2="769.5" y2="147.7" stroke="#1c1c1c" stroke-width="1"/>
<polygon points="769.5,50.9 767.6,58.6 771.4,58.6" fill="#1c1c1c"/>
<polygon points="769.5,147.7 767.6,140 771.4,140" fill="#1c1c1c"/>
<text x="767" y="100.2" font-size="11.3" text-anchor="middle" fill="#1c1c1c" transform="rotate(-90 767 100.2)" >173</text>
<line x1="702" y1="89.5" x2="746" y2="89.5" stroke="#1c1c1c" stroke-width="1"/>
<line x1="702" y1="93.5" x2="746" y2="93.5" stroke="#1c1c1c" stroke-width="1"/>
<line x1="703" y1="91.5" x2="730" y2="91.5" stroke="#1c1c1c" stroke-width="0.6" stroke-dasharray="4 1.5"/>
<line x1="741.5" y1="55" x2="741.5" y2="108.4" stroke="#1c1c1c" stroke-width="1"/>
<polygon points="741.5,89.3 739.6,81.6 743.4,81.6" fill="#1c1c1c"/>
<polygon points="741.5,93.1 739.6,100.8 743.4,100.8" fill="#1c1c1c"/>
<text x="739.5" y="71" font-size="12" text-anchor="middle" fill="#1c1c1c" transform="rotate(-90 739.5 71)" >M6</text>
<line x1="590.7" y1="92.5" x2="629.5" y2="92.5" stroke="#1c1c1c" stroke-width="1"/>
<line x1="590.7" y1="147.5" x2="636.5" y2="147.5" stroke="#1c1c1c" stroke-width="1"/>
<line x1="597.5" y1="92" x2="597.5" y2="147.7" stroke="#1c1c1c" stroke-width="1"/>
<polygon points="597.5,92 595.6,99.7 599.4,99.7" fill="#1c1c1c"/>
<polygon points="597.5,147.7 595.6,140 599.4,140" fill="#1c1c1c"/>
<text x="594.8" y="120.2" font-size="11.3" text-anchor="middle" fill="#1c1c1c" transform="rotate(-90 594.8 120.2)" >100</text>
<line x1="616" y1="139.5" x2="636.5" y2="139.5" stroke="#1c1c1c" stroke-width="1"/>
<line x1="621.5" y1="109.4" x2="621.5" y2="163" stroke="#1c1c1c" stroke-width="1"/>
<polygon points="621.5,139.4 619.6,131.7 623.4,131.7" fill="#1c1c1c"/>
<polygon points="621.5,147.7 619.6,155.4 623.4,155.4" fill="#1c1c1c"/>
<text x="620.2" y="117.6" font-size="11.3" text-anchor="middle" fill="#1c1c1c" transform="rotate(-90 620.2 117.6)" >14</text>
<line x1="641.5" y1="149.5" x2="641.5" y2="177.8" stroke="#1c1c1c" stroke-width="1"/>
<line x1="646.5" y1="149.5" x2="646.5" y2="177.8" stroke="#1c1c1c" stroke-width="1"/>
<line x1="626" y1="173.5" x2="676.4" y2="173.5" stroke="#1c1c1c" stroke-width="1"/>
<polygon points="641,173.5 633.3,171.6 633.3,175.4" fill="#1c1c1c"/>
<polygon points="646.9,173.5 654.6,171.6 654.6,175.4" fill="#1c1c1c"/>
<text x="667.8" y="171.8" font-size="11.3" text-anchor="middle" fill="#1c1c1c" >11</text>
<line x1="644.5" y1="135" x2="644.5" y2="150" stroke="#1c1c1c" stroke-width="1" stroke-dasharray="4 2"/>
<line x1="716.5" y1="135" x2="716.5" y2="150" stroke="#1c1c1c" stroke-width="1" stroke-dasharray="4 2"/>
<line x1="644.5" y1="151" x2="644.5" y2="200.5" stroke="#1c1c1c" stroke-width="1"/>
<line x1="716.5" y1="151" x2="716.5" y2="200.5" stroke="#1c1c1c" stroke-width="1"/>
<line x1="644.2" y1="195.5" x2="716.5" y2="195.5" stroke="#1c1c1c" stroke-width="1"/>
<polygon points="644.2,195.5 651.9,193.6 651.9,197.4" fill="#1c1c1c"/>
<polygon points="716.5,195.5 708.8,193.6 708.8,197.4" fill="#1c1c1c"/>
<text x="680.4" y="193.9" font-size="11.3" text-anchor="middle" fill="#1c1c1c" >130</text>
<line x1="637.5" y1="149" x2="637.5" y2="222" stroke="#1c1c1c" stroke-width="1"/>
<line x1="723.5" y1="149" x2="723.5" y2="222" stroke="#1c1c1c" stroke-width="1"/>
<line x1="637" y1="218.5" x2="723.7" y2="218.5" stroke="#1c1c1c" stroke-width="1"/>
<polygon points="637,218.5 644.7,216.6 644.7,220.4" fill="#1c1c1c"/>
<polygon points="723.7,218.5 716,216.6 716,220.4" fill="#1c1c1c"/>
<text x="681.2" y="216.1" font-size="11.3" text-anchor="middle" fill="#1c1c1c" >155</text>
<path d="M 652.7 370.4 C 646 364 640.5 348 639.6 328 C 638.8 303 655 280.7 680.5 280.7 C 706 280.7 722.2 303 721.4 328 C 720.5 348 715 364 708.3 370.4" fill="none" stroke="#1c1c1c" stroke-width="1.46" stroke-linejoin="round" />
<path d="M 654.6 368 C 648.6 362 642.9 347 642 328 C 641.3 305 656.5 283 680.5 283 C 704.5 283 719.7 305 719 328 C 718.1 347 712.4 362 706.4 368" fill="none" stroke="#1c1c1c" stroke-width="0.8" stroke-linejoin="round" />
<line x1="652.7" y1="370.5" x2="656.8" y2="370.5" stroke="#1c1c1c" stroke-width="1"/>
<line x1="704.2" y1="370.5" x2="708.3" y2="370.5" stroke="#1c1c1c" stroke-width="1"/>
<line x1="661" y1="366.5" x2="700" y2="366.5" stroke="#1c1c1c" stroke-width="1"/>
<line x1="661" y1="370.5" x2="700" y2="370.5" stroke="#1c1c1c" stroke-width="1"/>
<line x1="661" y1="371.5" x2="700" y2="371.5" stroke="#666" stroke-width="1"/>
<path d="M 645.8 335.4 C 645.8 348 649 360 654.4 368.2" fill="none" stroke="#1c1c1c" stroke-width="0.9" stroke-linejoin="round" />
<path d="M 715.2 335.4 C 715.2 348 712 360 706.6 368.2" fill="none" stroke="#1c1c1c" stroke-width="0.9" stroke-linejoin="round" />
<line x1="645.8" y1="335.5" x2="652.6" y2="335.5" stroke="#1c1c1c" stroke-width="1"/>
<line x1="708.4" y1="335.5" x2="715.2" y2="335.5" stroke="#1c1c1c" stroke-width="1"/>
<path d="M 652.6 335.4 C 651.5 325 651.6 315 652.5 307.5 C 655 300.5 660 296.4 666.4 293.8 C 675 290 686 290 694.6 293.8 C 701 296.4 706 300.5 708.5 307.5 C 709.4 315 709.5 325 708.4 335.4" fill="none" stroke="#1c1c1c" stroke-width="0.9" stroke-linejoin="round" />
<rect x="-7.9" y="-2.6" width="15.8" height="5.2" rx="2.6" fill="#fff" stroke="#1c1c1c" stroke-width="0.9" transform="translate(657.6 296.6) rotate(-42)"/>
<rect x="-7.9" y="-2.6" width="15.8" height="5.2" rx="2.6" fill="#fff" stroke="#1c1c1c" stroke-width="0.9" transform="translate(703.4 296.6) rotate(42)"/>
<rect x="676.2" y="294.1" width="8.6" height="7" fill="#fff" stroke="#1c1c1c" stroke-width="0.9" rx="2.4"/>
<rect x="676.2" y="337.9" width="8.6" height="7" fill="#fff" stroke="#1c1c1c" stroke-width="0.9" rx="2.4"/>
<circle cx="659.7" cy="319.5" r="3.6" fill="#fff" stroke="#1c1c1c" stroke-width="0.9"/>
<circle cx="701.3" cy="319.5" r="3.6" fill="#fff" stroke="#1c1c1c" stroke-width="0.9"/>
<circle cx="680.5" cy="319.5" r="18.8" fill="#fff" stroke="#1c1c1c" stroke-width="1"/>
<circle cx="680.5" cy="319.5" r="16.4" fill="none" stroke="#1c1c1c" stroke-width="0.8"/>
<circle cx="680.5" cy="298.7" r="1.4" fill="#999" stroke="#1c1c1c" stroke-width="0.9"/>
<circle cx="680.5" cy="340.3" r="1.4" fill="#999" stroke="#1c1c1c" stroke-width="0.9"/>
<circle cx="659.7" cy="319.5" r="1.4" fill="#999" stroke="#1c1c1c" stroke-width="0.9"/>
<circle cx="701.3" cy="319.5" r="1.4" fill="#999" stroke="#1c1c1c" stroke-width="0.9"/>
<circle cx="680.5" cy="319.5" r="10.5" fill="#fff" stroke="#111" stroke-width="4.9"/>
<circle cx="680.5" cy="319.5" r="5.2" fill="none" stroke="#1c1c1c" stroke-width="0.9"/>
<circle cx="680.5" cy="319.5" r="3.2" fill="none" stroke="#555" stroke-width="0.7"/>
<circle cx="680.5" cy="319.5" r="1.5" fill="#111" stroke="none" stroke-width="0"/>
<rect x="667.5" y="348.5" width="26" height="7" fill="#fff" stroke="#1c1c1c" stroke-width="1" rx="1.6"/>
<text x="680.5" y="354.2" font-size="4.6" text-anchor="middle" fill="#111" font-weight="bold" textLength="19.2" lengthAdjust="spacingAndGlyphs">VARMEC</text>
<path d="M 661.6 349.5 L 664.8 352 L 664.8 359.2 Q 664.8 360.9 666.5 360.9 L 694.5 360.9 Q 696.2 360.9 696.2 359.2 L 696.2 352 L 699.4 349.5" fill="none" stroke="#1c1c1c" stroke-width="0.9" stroke-linejoin="round" />
<line x1="680.5" y1="275" x2="680.5" y2="378.6" stroke="#1c1c1c" stroke-width="1" stroke-dasharray="7 2 2 2"/>
<line x1="633.2" y1="319.5" x2="702" y2="319.5" stroke="#1c1c1c" stroke-width="1" stroke-dasharray="7 2 2 2"/>
<line x1="639.5" y1="257" x2="639.5" y2="323.5" stroke="#1c1c1c" stroke-width="1"/>
<line x1="721.5" y1="257" x2="721.5" y2="327.5" stroke="#1c1c1c" stroke-width="1"/>
<line x1="639.5" y1="261.5" x2="721.2" y2="261.5" stroke="#1c1c1c" stroke-width="1"/>
<polygon points="639.5,261.5 647.2,259.6 647.2,263.4" fill="#1c1c1c"/>
<polygon points="721.2,261.5 713.5,259.6 713.5,263.4" fill="#1c1c1c"/>
<text x="681.2" y="258.7" font-size="11.3" text-anchor="middle" fill="#1c1c1c" >153</text>
<line x1="689.3" y1="280.5" x2="774.5" y2="280.5" stroke="#1c1c1c" stroke-width="1"/>
<line x1="701" y1="319.5" x2="774.5" y2="319.5" stroke="#1c1c1c" stroke-width="1"/>
<line x1="708.6" y1="371.5" x2="774.5" y2="371.5" stroke="#1c1c1c" stroke-width="1"/>
<line x1="768.5" y1="280.2" x2="768.5" y2="319.5" stroke="#1c1c1c" stroke-width="1"/>
<polygon points="768.5,280.2 766.6,287.9 770.4,287.9" fill="#1c1c1c"/>
<polygon points="768.5,319.5 766.6,311.8 770.4,311.8" fill="#1c1c1c"/>
<line x1="768.5" y1="319.5" x2="768.5" y2="371.2" stroke="#1c1c1c" stroke-width="1"/>
<polygon points="768.5,319.5 766.6,327.2 770.4,327.2" fill="#1c1c1c"/>
<polygon points="768.5,371.2 766.6,363.5 770.4,363.5" fill="#1c1c1c"/>
<text x="767" y="299.6" font-size="11.3" text-anchor="middle" fill="#1c1c1c" transform="rotate(-90 767 299.6)" >73</text>
<text x="767" y="344.4" font-size="11.3" text-anchor="middle" fill="#1c1c1c" transform="rotate(-90 767 344.4)" >97</text>
<line x1="701" y1="317.5" x2="745.5" y2="317.5" stroke="#1c1c1c" stroke-width="1"/>
<line x1="701" y1="320.5" x2="745.5" y2="320.5" stroke="#1c1c1c" stroke-width="1"/>
<line x1="740.5" y1="289.7" x2="740.5" y2="334.5" stroke="#1c1c1c" stroke-width="1"/>
<polygon points="740.5,317.6 738.6,309.9 742.4,309.9" fill="#1c1c1c"/>
<polygon points="740.5,320.9 738.6,328.6 742.4,328.6" fill="#1c1c1c"/>
<text x="738.6" y="298.2" font-size="12" text-anchor="middle" fill="#1c1c1c" transform="rotate(-90 738.6 298.2)" >M6</text>
<line x1="659.5" y1="321" x2="659.5" y2="397.8" stroke="#1c1c1c" stroke-width="1"/>
<line x1="700.5" y1="321" x2="700.5" y2="397.8" stroke="#1c1c1c" stroke-width="1"/>
<line x1="659.4" y1="394.5" x2="700.8" y2="394.5" stroke="#1c1c1c" stroke-width="1"/>
<polygon points="659.4,394.5 667.1,392.6 667.1,396.4" fill="#1c1c1c"/>
<polygon points="700.8,394.5 693.1,392.6 693.1,396.4" fill="#1c1c1c"/>
<text x="680.2" y="392.3" font-size="11.3" text-anchor="middle" fill="#1c1c1c" >75</text>
<line x1="654.5" y1="322" x2="654.5" y2="420.8" stroke="#1c1c1c" stroke-width="1"/>
<line x1="705.5" y1="322" x2="705.5" y2="420.8" stroke="#1c1c1c" stroke-width="1"/>
<line x1="654.2" y1="417.5" x2="705.8" y2="417.5" stroke="#1c1c1c" stroke-width="1"/>
<polygon points="654.2,417.5 661.9,415.6 661.9,419.4" fill="#1c1c1c"/>
<polygon points="705.8,417.5 698.1,415.6 698.1,419.4" fill="#1c1c1c"/>
<text x="680.2" y="415.1" font-size="11.3" text-anchor="middle" fill="#1c1c1c" >90</text>
<path d="M 650 572 C 652 578 655 582 660 582.8 L 702 582.8 C 707 582 710 578 712 572" fill="#fff" stroke="#1c1c1c" stroke-width="1" stroke-linejoin="round" />
<path d="M 650.5 566 C 652 573 655.5 579.5 661 582.6" fill="none" stroke="#555" stroke-width="0.9" stroke-linejoin="round" />
<path d="M 711 566 C 709.5 573 706 579.5 700.5 582.6" fill="none" stroke="#555" stroke-width="0.9" stroke-linejoin="round" />
<circle cx="680.7" cy="531.3" r="52" fill="#d9d9d9" stroke="#a8a8a8" stroke-width="0.8"/>
<path d="M633.2 552.45 A52 52 0 1 1 729.08 550.36" fill="none" stroke="#111" stroke-width="1.5" />
<circle cx="680.7" cy="531.3" r="45.4" fill="none" stroke="#1c1c1c" stroke-width="0.8" stroke-dasharray="9 2 2 2"/>
<circle cx="680.7" cy="531.3" r="39.3" fill="none" stroke="#1c1c1c" stroke-width="0.9"/>
<circle cx="680.7" cy="531.3" r="36.8" fill="none" stroke="#1c1c1c" stroke-width="0.9"/>
<circle cx="648.5" cy="499.3" r="2.5" fill="#aaa" stroke="#1c1c1c" stroke-width="0.8"/>
<line x1="646.7" y1="497.5" x2="650.3" y2="501.1" stroke="#1c1c1c" stroke-width="0.7"/>
<line x1="646.7" y1="501.1" x2="650.3" y2="497.5" stroke="#1c1c1c" stroke-width="0.7"/>
<circle cx="648.5" cy="563.3" r="2.5" fill="#aaa" stroke="#1c1c1c" stroke-width="0.8"/>
<line x1="646.7" y1="561.5" x2="650.3" y2="565.1" stroke="#1c1c1c" stroke-width="0.7"/>
<line x1="646.7" y1="565.1" x2="650.3" y2="561.5" stroke="#1c1c1c" stroke-width="0.7"/>
<circle cx="712.9" cy="499.3" r="2.5" fill="#aaa" stroke="#1c1c1c" stroke-width="0.8"/>
<line x1="711.1" y1="497.5" x2="714.7" y2="501.1" stroke="#1c1c1c" stroke-width="0.7"/>
<line x1="711.1" y1="501.1" x2="714.7" y2="497.5" stroke="#1c1c1c" stroke-width="0.7"/>
<circle cx="712.9" cy="563.3" r="2.5" fill="#aaa" stroke="#1c1c1c" stroke-width="0.8"/>
<line x1="711.1" y1="561.5" x2="714.7" y2="565.1" stroke="#1c1c1c" stroke-width="0.7"/>
<line x1="711.1" y1="565.1" x2="714.7" y2="561.5" stroke="#1c1c1c" stroke-width="0.7"/>
<circle cx="680.7" cy="531.3" r="14.4" fill="#fff" stroke="#1c1c1c" stroke-width="0.9"/>
<circle cx="680.7" cy="531.3" r="9.9" fill="#fff" stroke="#111" stroke-width="5.2"/>
<circle cx="680.7" cy="531.3" r="5.6" fill="none" stroke="#555" stroke-width="0.8"/>
<circle cx="680.7" cy="531.3" r="3.8" fill="none" stroke="#1c1c1c" stroke-width="0.8"/>
<circle cx="680.7" cy="531.3" r="1.5" fill="#111" stroke="none" stroke-width="0"/>
<line x1="679.5" y1="525.1" x2="679.5" y2="527.7" stroke="#1c1c1c" stroke-width="0.7"/>
<line x1="681.9" y1="525.1" x2="681.9" y2="527.7" stroke="#1c1c1c" stroke-width="0.7"/>
<line x1="680.5" y1="475.3" x2="680.5" y2="590.5" stroke="#1c1c1c" stroke-width="1.2"/>
<line x1="626.7" y1="531.5" x2="734.2" y2="531.5" stroke="#1c1c1c" stroke-width="1" stroke-dasharray="9 2 2 2"/>
<line x1="735" y1="531.5" x2="774.5" y2="531.5" stroke="#1c1c1c" stroke-width="1"/>
<line x1="701.8" y1="582.5" x2="774.5" y2="582.5" stroke="#1c1c1c" stroke-width="1"/>
<line x1="769.5" y1="531.3" x2="769.5" y2="582.8" stroke="#1c1c1c" stroke-width="1"/>
<polygon points="769.5,531.3 767.6,539 771.4,539" fill="#1c1c1c"/>
<polygon points="769.5,582.8 767.6,575.1 771.4,575.1" fill="#1c1c1c"/>
<text x="767" y="559.2" font-size="11.3" text-anchor="middle" fill="#1c1c1c" transform="rotate(-90 767 559.2)" >97</text>
<line x1="635.5" y1="538.5" x2="635.5" y2="632" stroke="#1c1c1c" stroke-width="1"/>
<line x1="726.5" y1="538.5" x2="726.5" y2="632" stroke="#1c1c1c" stroke-width="1"/>
<line x1="635.6" y1="627.5" x2="726.1" y2="627.5" stroke="#1c1c1c" stroke-width="1"/>
<polygon points="635.6,627.5 643.3,625.6 643.3,629.4" fill="#1c1c1c"/>
<polygon points="726.1,627.5 718.4,625.6 718.4,629.4" fill="#1c1c1c"/>
<text x="680.7" y="625" font-size="12" text-anchor="middle" fill="#1c1c1c" >M</text>
<line x1="645.5" y1="564" x2="645.5" y2="608.8" stroke="#1c1c1c" stroke-width="1"/>
<line x1="651.5" y1="564" x2="651.5" y2="608.8" stroke="#1c1c1c" stroke-width="1"/>
<line x1="630.3" y1="603.5" x2="677.6" y2="603.5" stroke="#1c1c1c" stroke-width="1"/>
<polygon points="645.6,603.5 637.9,601.6 637.9,605.4" fill="#1c1c1c"/>
<polygon points="651.4,603.5 659.1,601.6 659.1,605.4" fill="#1c1c1c"/>
<text x="668.9" y="602.2" font-size="12" text-anchor="middle" fill="#1c1c1c" >O</text>
<path d="M 662 792 L 639 792 Q 636.8 792 636.8 794.2 L 636.8 798.7 Q 636.8 800.9 639 800.9 L 659.5 800.9 Q 661.6 800.9 662 799 Z" fill="#fff" stroke="#1c1c1c" stroke-width="1.23" stroke-linejoin="round" />
<path d="M 699.4 792 L 722 792 Q 724.2 792 724.2 794.2 L 724.2 798.7 Q 724.2 800.9 722 800.9 L 701.9 800.9 Q 699.8 800.9 699.4 799 Z" fill="#fff" stroke="#1c1c1c" stroke-width="1.23" stroke-linejoin="round" />
<path d="M 662 799 L 664.5 791 L 697 791 L 699.4 799" fill="none" stroke="#1c1c1c" stroke-width="1" stroke-linejoin="round" />
<path d="M 641 792 C 639 784 637.5 776 636.5 768" fill="none" stroke="#1c1c1c" stroke-width="1" stroke-linejoin="round" />
<path d="M 720.4 792 C 722.4 784 723.9 776 724.9 768" fill="none" stroke="#1c1c1c" stroke-width="1" stroke-linejoin="round" />
<path d="M 647 792 C 645.5 786 644.5 781 644 776" fill="none" stroke="#1c1c1c" stroke-width="0.8" stroke-linejoin="round" />
<path d="M 714.4 792 C 715.9 786 716.9 781 717.4 776" fill="none" stroke="#1c1c1c" stroke-width="0.8" stroke-linejoin="round" />
<line x1="641.5" y1="792" x2="641.5" y2="800.9" stroke="#1c1c1c" stroke-width="1"/>
<line x1="647.5" y1="792" x2="647.5" y2="800.9" stroke="#1c1c1c" stroke-width="1"/>
<line x1="644.3" y1="788.5" x2="644.3" y2="805.5" stroke="#1c1c1c" stroke-width="1.7"/>
<line x1="714.5" y1="792" x2="714.5" y2="800.9" stroke="#1c1c1c" stroke-width="1"/>
<line x1="719.5" y1="792" x2="719.5" y2="800.9" stroke="#1c1c1c" stroke-width="1"/>
<line x1="716.8" y1="788.5" x2="716.8" y2="805.5" stroke="#1c1c1c" stroke-width="1"/>
<line x1="662.5" y1="798.5" x2="699" y2="798.5" stroke="#1c1c1c" stroke-width="1"/>
<circle cx="680.7" cy="744.2" r="52" fill="#d9d9d9" stroke="#a8a8a8" stroke-width="0.8"/>
<path d="M633.2 765.35 A52 52 0 1 1 729.08 763.26" fill="none" stroke="#111" stroke-width="1.5" />
<circle cx="680.7" cy="744.2" r="45.4" fill="none" stroke="#1c1c1c" stroke-width="0.8" stroke-dasharray="9 2 2 2"/>
<circle cx="680.7" cy="744.2" r="39.3" fill="none" stroke="#1c1c1c" stroke-width="0.9"/>
<circle cx="680.7" cy="744.2" r="36.8" fill="none" stroke="#1c1c1c" stroke-width="0.9"/>
<circle cx="648.5" cy="712.2" r="2.5" fill="#aaa" stroke="#1c1c1c" stroke-width="0.8"/>
<line x1="646.7" y1="710.4" x2="650.3" y2="714" stroke="#1c1c1c" stroke-width="0.7"/>
<line x1="646.7" y1="714" x2="650.3" y2="710.4" stroke="#1c1c1c" stroke-width="0.7"/>
<circle cx="648.5" cy="776.2" r="2.5" fill="#aaa" stroke="#1c1c1c" stroke-width="0.8"/>
<line x1="646.7" y1="774.4" x2="650.3" y2="778" stroke="#1c1c1c" stroke-width="0.7"/>
<line x1="646.7" y1="778" x2="650.3" y2="774.4" stroke="#1c1c1c" stroke-width="0.7"/>
<circle cx="712.9" cy="712.2" r="2.5" fill="#aaa" stroke="#1c1c1c" stroke-width="0.8"/>
<line x1="711.1" y1="710.4" x2="714.7" y2="714" stroke="#1c1c1c" stroke-width="0.7"/>
<line x1="711.1" y1="714" x2="714.7" y2="710.4" stroke="#1c1c1c" stroke-width="0.7"/>
<circle cx="712.9" cy="776.2" r="2.5" fill="#aaa" stroke="#1c1c1c" stroke-width="0.8"/>
<line x1="711.1" y1="774.4" x2="714.7" y2="778" stroke="#1c1c1c" stroke-width="0.7"/>
<line x1="711.1" y1="778" x2="714.7" y2="774.4" stroke="#1c1c1c" stroke-width="0.7"/>
<circle cx="680.7" cy="744.2" r="14.4" fill="#fff" stroke="#1c1c1c" stroke-width="0.9"/>
<circle cx="680.7" cy="744.2" r="9.9" fill="#fff" stroke="#111" stroke-width="5.2"/>
<circle cx="680.7" cy="744.2" r="5.6" fill="none" stroke="#555" stroke-width="0.8"/>
<circle cx="680.7" cy="744.2" r="3.8" fill="none" stroke="#1c1c1c" stroke-width="0.8"/>
<circle cx="680.7" cy="744.2" r="1.5" fill="#111" stroke="none" stroke-width="0"/>
<line x1="679.5" y1="738" x2="679.5" y2="740.6" stroke="#1c1c1c" stroke-width="0.7"/>
<line x1="681.9" y1="738" x2="681.9" y2="740.6" stroke="#1c1c1c" stroke-width="0.7"/>
<line x1="680.5" y1="688.2" x2="680.5" y2="809.7" stroke="#1c1c1c" stroke-width="1.2"/>
<line x1="626.7" y1="744.5" x2="734.2" y2="744.5" stroke="#1c1c1c" stroke-width="1" stroke-dasharray="9 2 2 2"/>
<line x1="735" y1="744.5" x2="774.5" y2="744.5" stroke="#1c1c1c" stroke-width="1"/>
<line x1="726" y1="800.5" x2="774.5" y2="800.5" stroke="#1c1c1c" stroke-width="1"/>
<line x1="769.5" y1="744.2" x2="769.5" y2="800.5" stroke="#1c1c1c" stroke-width="1"/>
<polygon points="769.5,744.2 767.6,751.9 771.4,751.9" fill="#1c1c1c"/>
<polygon points="769.5,800.5 767.6,792.8 771.4,792.8" fill="#1c1c1c"/>
<text x="767" y="772" font-size="11.3" text-anchor="middle" fill="#1c1c1c" transform="rotate(-90 767 772)" >100</text>
<line x1="635.5" y1="752.4" x2="635.5" y2="844.6" stroke="#1c1c1c" stroke-width="1"/>
<line x1="726.5" y1="752.4" x2="726.5" y2="844.6" stroke="#1c1c1c" stroke-width="1"/>
<line x1="635.6" y1="840.5" x2="726.1" y2="840.5" stroke="#1c1c1c" stroke-width="1"/>
<polygon points="635.6,840.5 643.3,838.6 643.3,842.4" fill="#1c1c1c"/>
<polygon points="726.1,840.5 718.4,838.6 718.4,842.4" fill="#1c1c1c"/>
<text x="680.7" y="837.4" font-size="12" text-anchor="middle" fill="#1c1c1c" >M</text>
<line x1="645.5" y1="777" x2="645.5" y2="822.8" stroke="#1c1c1c" stroke-width="1"/>
<line x1="651.5" y1="777" x2="651.5" y2="822.8" stroke="#1c1c1c" stroke-width="1"/>
<line x1="626.7" y1="817.5" x2="677.6" y2="817.5" stroke="#1c1c1c" stroke-width="1"/>
<polygon points="645.6,817.5 637.9,815.6 637.9,819.4" fill="#1c1c1c"/>
<polygon points="651.4,817.5 659.1,815.6 659.1,819.4" fill="#1c1c1c"/>
<text x="668.9" y="815.5" font-size="12" text-anchor="middle" fill="#1c1c1c" >O</text>
<rect x="5.6" y="876.5" width="41.6" height="173.1" fill="#ebebeb" stroke="none" stroke-width="0" rx="0"/>
<rect x="47.2" y="876.5" width="337.2" height="21.1" fill="#ebebeb" stroke="none" stroke-width="0" rx="0"/>
<line x1="89.5" y1="897.6" x2="89.5" y2="1049.6" stroke="#969696" stroke-width="1"/>
<line x1="126.5" y1="920" x2="126.5" y2="1049.6" stroke="#969696" stroke-width="1"/>
<line x1="166.5" y1="897.6" x2="166.5" y2="1049.6" stroke="#969696" stroke-width="1"/>
<line x1="203.5" y1="897.6" x2="203.5" y2="1049.6" stroke="#969696" stroke-width="1"/>
<line x1="255.5" y1="897.6" x2="255.5" y2="972.7" stroke="#969696" stroke-width="1"/>
<line x1="296.5" y1="897.6" x2="296.5" y2="972.7" stroke="#969696" stroke-width="1"/>
<line x1="255.5" y1="1004.2" x2="255.5" y2="1019.3" stroke="#969696" stroke-width="1"/>
<line x1="296.5" y1="1004.2" x2="296.5" y2="1019.3" stroke="#969696" stroke-width="1"/>
<line x1="89.6" y1="920.5" x2="166.7" y2="920.5" stroke="#969696" stroke-width="1"/>
<line x1="5.6" y1="942.5" x2="384.4" y2="942.5" stroke="#969696" stroke-width="1"/>
<line x1="47.2" y1="957.5" x2="126.3" y2="957.5" stroke="#969696" stroke-width="1"/>
<line x1="203.1" y1="957.5" x2="341" y2="957.5" stroke="#969696" stroke-width="1"/>
<line x1="47.2" y1="972.5" x2="126.3" y2="972.5" stroke="#969696" stroke-width="1"/>
<line x1="203.1" y1="972.5" x2="341" y2="972.5" stroke="#969696" stroke-width="1"/>
<line x1="47.2" y1="988.5" x2="166.7" y2="988.5" stroke="#969696" stroke-width="1"/>
<line x1="47.2" y1="1019.5" x2="166.7" y2="1019.5" stroke="#969696" stroke-width="1"/>
<line x1="47.2" y1="1034.5" x2="166.7" y2="1034.5" stroke="#969696" stroke-width="1"/>
<line x1="203.1" y1="1019.5" x2="341" y2="1019.5" stroke="#969696" stroke-width="1"/>
<line x1="47.2" y1="876.5" x2="47.2" y2="1049.6" stroke="#8c8c8c" stroke-width="2.2"/>
<line x1="341" y1="876.5" x2="341" y2="1049.6" stroke="#8c8c8c" stroke-width="1.8"/>
<line x1="47.2" y1="897.5" x2="384.4" y2="897.5" stroke="#3a3a3a" stroke-width="1.3"/>
<line x1="5.6" y1="1004" x2="384.4" y2="1004" stroke="#8c8c8c" stroke-width="2"/>
<rect x="5.5" y="876.5" width="379" height="173" fill="none" stroke="#111" stroke-width="1.3" rx="0"/>
<text x="26.4" y="905.8" font-size="12" text-anchor="middle" fill="#111" font-weight="bold" >RCV</text>
<text x="26.4" y="920.3" font-size="12" text-anchor="middle" fill="#111" font-weight="bold" >CV</text>
<text x="193.5" y="893.8" font-size="14" text-anchor="middle" fill="#111" font-weight="bold" >RCV</text>
<text x="363.6" y="893.8" font-size="14" text-anchor="middle" fill="#111" font-weight="bold" >CV</text>
<text x="68.3" y="924.7" font-size="12" text-anchor="middle" fill="#111" font-weight="bold" >IEC</text>
<text x="128.2" y="913.4" font-size="12" text-anchor="middle" fill="#111" font-weight="bold" >DF</text>
<text x="108" y="935.2" font-size="10.5" text-anchor="middle" fill="#111" font-weight="bold" >(B5)</text>
<text x="146.5" y="935.2" font-size="10.5" text-anchor="middle" fill="#111" font-weight="bold" >(B14)</text>
<text x="185" y="924.8" font-size="12" text-anchor="middle" fill="#111" font-weight="bold" >A</text>
<text x="229.4" y="924.8" font-size="12" text-anchor="middle" fill="#111" font-weight="bold" >NEMA</text>
<text x="276" y="924.8" font-size="12" text-anchor="middle" fill="#111" font-weight="bold" >DF</text>
<text x="318.8" y="924.8" font-size="12" text-anchor="middle" fill="#111" font-weight="bold" >A</text>
<text x="362.8" y="924.8" font-size="12" text-anchor="middle" fill="#111" font-weight="bold" >AR</text>
<text x="26.4" y="977.4" font-size="12" text-anchor="middle" fill="#111" font-weight="bold" >202</text>
<text x="26.4" y="1030.6" font-size="12" text-anchor="middle" fill="#111" font-weight="bold" >203</text>
<text x="68.4" y="953.6" font-size="12" text-anchor="middle" fill="#111" font-weight="bold" >63</text>
<text x="108" y="953.6" font-size="12" text-anchor="middle" fill="#111" >140</text>
<text x="229.4" y="953.6" font-size="12" text-anchor="middle" fill="#111" font-weight="bold" >56</text>
<text x="276.2" y="953.6" font-size="12" text-anchor="middle" fill="#111" >165.1</text>
<text x="318.8" y="953.6" font-size="12" text-anchor="middle" fill="#111" >188</text>
<text x="68.4" y="968.8" font-size="12" text-anchor="middle" fill="#111" font-weight="bold" >71</text>
<text x="108" y="968.8" font-size="12" text-anchor="middle" fill="#111" >160</text>
<text x="229.4" y="968.8" font-size="12" text-anchor="middle" fill="#111" font-weight="bold" >140</text>
<text x="276.2" y="968.8" font-size="12" text-anchor="middle" fill="#111" >165.1</text>
<text x="318.8" y="968.8" font-size="12" text-anchor="middle" fill="#111" >188</text>
<text x="68.4" y="983.9" font-size="12" text-anchor="middle" fill="#111" font-weight="bold" >80</text>
<text x="108" y="983.9" font-size="12" text-anchor="middle" fill="#111" >200</text>
<text x="68.4" y="999.5" font-size="12" text-anchor="middle" fill="#111" font-weight="bold" >90</text>
<text x="108" y="999.5" font-size="12" text-anchor="middle" fill="#111" >200</text>
<text x="146.5" y="999.5" font-size="12" text-anchor="middle" fill="#111" >140</text>
<text x="68.4" y="1015.4" font-size="12" text-anchor="middle" fill="#111" font-weight="bold" >56</text>
<text x="108" y="1015.4" font-size="12" text-anchor="middle" fill="#111" >120</text>
<text x="146.5" y="1015.4" font-size="12" text-anchor="middle" fill="#111" >80</text>
<text x="229.4" y="1015.4" font-size="12" text-anchor="middle" fill="#111" font-weight="bold" >56</text>
<text x="276.2" y="1015.4" font-size="12" text-anchor="middle" fill="#111" >165.1</text>
<text x="318.8" y="1015.4" font-size="12" text-anchor="middle" fill="#111" >192.2</text>
<text x="68.4" y="1030.5" font-size="12" text-anchor="middle" fill="#111" font-weight="bold" >63</text>
<text x="108" y="1030.5" font-size="12" text-anchor="middle" fill="#111" >140</text>
<text x="146.5" y="1030.5" font-size="12" text-anchor="middle" fill="#111" >90</text>
<text x="68.4" y="1045.9" font-size="12" text-anchor="middle" fill="#111" font-weight="bold" >71</text>
<text x="108" y="1045.9" font-size="12" text-anchor="middle" fill="#111" >160</text>
<text x="146.5" y="1045.9" font-size="12" text-anchor="middle" fill="#111" >105</text>
<text x="184.8" y="977.6" font-size="12" text-anchor="middle" fill="#111" >180</text>
<text x="362.8" y="977.6" font-size="12" text-anchor="middle" fill="#111" >173</text>
<text x="184.8" y="1031" font-size="12" text-anchor="middle" fill="#111" >173.2</text>
<text x="362.8" y="1031" font-size="12" text-anchor="middle" fill="#111" >170</text>
<line x1="503.5" y1="877.6" x2="503.5" y2="960.2" stroke="#969696" stroke-width="1"/>
<line x1="549.5" y1="877.6" x2="549.5" y2="960.2" stroke="#969696" stroke-width="1"/>
<line x1="596.5" y1="877.6" x2="596.5" y2="960.2" stroke="#969696" stroke-width="1"/>
<line x1="642.5" y1="877.6" x2="642.5" y2="960.2" stroke="#969696" stroke-width="1"/>
<line x1="689.5" y1="877.6" x2="689.5" y2="960.2" stroke="#969696" stroke-width="1"/>
<line x1="735.5" y1="877.6" x2="735.5" y2="960.2" stroke="#969696" stroke-width="1"/>
<line x1="403.4" y1="899.5" x2="785.7" y2="899.5" stroke="#969696" stroke-width="1"/>
<line x1="403.4" y1="914.5" x2="785.7" y2="914.5" stroke="#969696" stroke-width="1"/>
<line x1="403.4" y1="929.5" x2="785.7" y2="929.5" stroke="#969696" stroke-width="1"/>
<line x1="403.4" y1="945.5" x2="785.7" y2="945.5" stroke="#969696" stroke-width="1"/>
<rect x="403.5" y="877.5" width="382" height="83" fill="none" stroke="#111" stroke-width="1.2" rx="0"/>
<text x="526.6" y="891.2" font-size="12" text-anchor="middle" fill="#111" font-weight="bold" >L</text>
<text x="572.8" y="891.2" font-size="12" text-anchor="middle" fill="#111" font-weight="bold" >M</text>
<text x="619.25" y="891.2" font-size="12" font-weight="bold" text-anchor="middle" fill="#111">N <tspan font-size="8.5">h8</tspan></text>
<text x="665.85" y="891.2" font-size="12" text-anchor="middle" fill="#111" >O</text>
<text x="712.45" y="891.2" font-size="12" text-anchor="middle" fill="#111" >P</text>
<text x="760.7" y="891.2" font-size="12" text-anchor="middle" fill="#111" >Q</text>
<text x="453.5" y="910.4" font-size="12" text-anchor="middle" fill="#111" font-weight="bold" >NF120 - PF120</text>
<text x="526.6" y="910.4" font-size="12" text-anchor="middle" fill="#111" >120</text>
<text x="572.8" y="910.4" font-size="12" text-anchor="middle" fill="#111" >100</text>
<text x="619.25" y="910.4" font-size="12" text-anchor="middle" fill="#111" >80</text>
<text x="665.85" y="910.4" font-size="12" text-anchor="middle" fill="#111" >7</text>
<text x="712.45" y="910.4" font-size="12" text-anchor="middle" fill="#111" >2.5</text>
<text x="760.7" y="910.4" font-size="12" text-anchor="middle" fill="#111" >10</text>
<text x="453.5" y="925.8" font-size="12" text-anchor="middle" fill="#111" font-weight="bold" >NF140 - PF140</text>
<text x="526.6" y="925.8" font-size="12" text-anchor="middle" fill="#111" >140</text>
<text x="572.8" y="925.8" font-size="12" text-anchor="middle" fill="#111" >115</text>
<text x="619.25" y="925.8" font-size="12" text-anchor="middle" fill="#111" >95</text>
<text x="665.85" y="925.8" font-size="12" text-anchor="middle" fill="#111" >9</text>
<text x="712.45" y="925.8" font-size="12" text-anchor="middle" fill="#111" >3</text>
<text x="760.7" y="925.8" font-size="12" text-anchor="middle" fill="#111" >10</text>
<text x="453.5" y="941.1" font-size="12" text-anchor="middle" fill="#111" font-weight="bold" >NF160 - PF160</text>
<text x="526.6" y="941.1" font-size="12" text-anchor="middle" fill="#111" >160</text>
<text x="572.8" y="941.1" font-size="12" text-anchor="middle" fill="#111" >130</text>
<text x="619.25" y="941.1" font-size="12" text-anchor="middle" fill="#111" >110</text>
<text x="665.85" y="941.1" font-size="12" text-anchor="middle" fill="#111" >11</text>
<text x="712.45" y="941.1" font-size="12" text-anchor="middle" fill="#111" >3</text>
<text x="760.7" y="941.1" font-size="12" text-anchor="middle" fill="#111" >10</text>
<text x="453.5" y="956.6" font-size="12" text-anchor="middle" fill="#111" font-weight="bold" >NF200</text>
<text x="526.6" y="956.6" font-size="12" text-anchor="middle" fill="#111" >200</text>
<text x="572.8" y="956.6" font-size="12" text-anchor="middle" fill="#111" >165</text>
<text x="619.25" y="956.6" font-size="12" text-anchor="middle" fill="#111" >130</text>
<text x="665.85" y="956.6" font-size="12" text-anchor="middle" fill="#111" >11</text>
<text x="712.45" y="956.6" font-size="12" text-anchor="middle" fill="#111" >3</text>
<text x="760.7" y="956.6" font-size="12" text-anchor="middle" fill="#111" >10</text>
</svg></body></html>
